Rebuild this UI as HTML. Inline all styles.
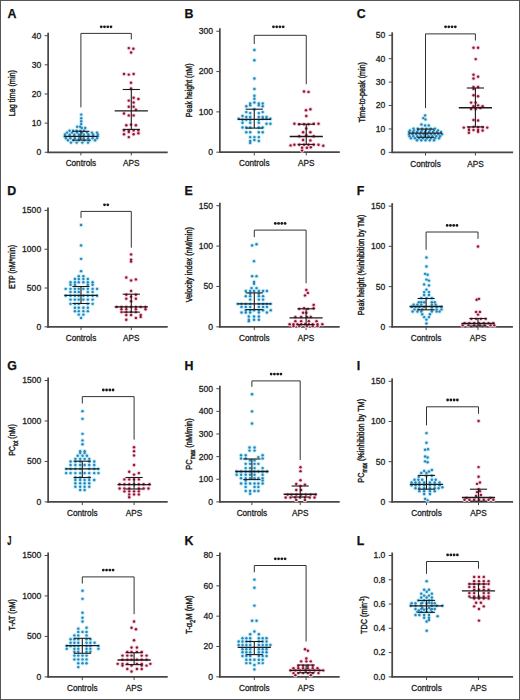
<!DOCTYPE html><html><head><meta charset="utf-8"><style>html,body{margin:0;padding:0;background:#fff;}svg{display:block;}text{font-family:"Liberation Sans",sans-serif;fill:#222;}</style></head><body>
<svg width="520" height="700" viewBox="0 0 520 700">
<rect x="0" y="0" width="520" height="700" fill="#fff"/>
<rect x="0.5" y="0.5" width="519" height="699" fill="none" stroke="#555" stroke-width="1"/>
<text x="7.5" y="17.6" font-size="12.4" font-weight="bold" style="fill:#111;stroke:#111;stroke-width:0.25">A</text>
<text transform="translate(15.2,93.2) rotate(-90)" text-anchor="middle" font-size="9.6" style="stroke:#222;stroke-width:0.42" textLength="46.3" lengthAdjust="spacingAndGlyphs">Lag time (min)</text>
<line x1="48.15" y1="32.7" x2="48.15" y2="153.05" stroke="#474747" stroke-width="1.75"/>
<line x1="47.35" y1="152.25" x2="167.7" y2="152.25" stroke="#474747" stroke-width="1.75"/>
<line x1="44.65" y1="152.25" x2="48.15" y2="152.25" stroke="#474747" stroke-width="1"/>
<text x="41.35" y="155.15" font-size="8.6" text-anchor="end" style="stroke:#222;stroke-width:0.28">0</text>
<line x1="44.65" y1="123.11" x2="48.15" y2="123.11" stroke="#474747" stroke-width="1"/>
<text x="41.35" y="126.01" font-size="8.6" text-anchor="end" style="stroke:#222;stroke-width:0.28">10</text>
<line x1="44.65" y1="93.97" x2="48.15" y2="93.97" stroke="#474747" stroke-width="1"/>
<text x="41.35" y="96.88" font-size="8.6" text-anchor="end" style="stroke:#222;stroke-width:0.28">20</text>
<line x1="44.65" y1="64.84" x2="48.15" y2="64.84" stroke="#474747" stroke-width="1"/>
<text x="41.35" y="67.74" font-size="8.6" text-anchor="end" style="stroke:#222;stroke-width:0.28">30</text>
<line x1="44.65" y1="35.7" x2="48.15" y2="35.7" stroke="#474747" stroke-width="1"/>
<text x="41.35" y="38.6" font-size="8.6" text-anchor="end" style="stroke:#222;stroke-width:0.28">40</text>
<line x1="80.9" y1="152.25" x2="80.9" y2="155.45" stroke="#474747" stroke-width="1"/>
<line x1="131.3" y1="152.25" x2="131.3" y2="155.45" stroke="#474747" stroke-width="1"/>
<text x="80.9" y="166.45" font-size="8.6" text-anchor="middle" style="stroke:#222;stroke-width:0.28" textLength="30.5" lengthAdjust="spacingAndGlyphs">Controls</text>
<text x="131.3" y="166.45" font-size="8.6" text-anchor="middle" style="stroke:#222;stroke-width:0.28" textLength="16.5" lengthAdjust="spacingAndGlyphs">APS</text>
<path d="M80.9,107.4V33.4H131.3V39.4" fill="none" stroke="#333" stroke-width="1"/>
<circle cx="101.23" cy="26.8" r="1.4" fill="#1a1a1a"/>
<circle cx="104.48" cy="26.8" r="1.4" fill="#1a1a1a"/>
<circle cx="107.73" cy="26.8" r="1.4" fill="#1a1a1a"/>
<circle cx="110.98" cy="26.8" r="1.4" fill="#1a1a1a"/>
<g fill="#c2ecfa"><circle cx="81.2" cy="114.6" r="2.2"/><circle cx="81.2" cy="118.3" r="2.2"/><circle cx="81.2" cy="121.3" r="2.2"/><circle cx="81.2" cy="124" r="2.2"/><circle cx="77.2" cy="126.8" r="2.2"/><circle cx="80.2" cy="126.8" r="2.2"/><circle cx="81.8" cy="128" r="2.2"/><circle cx="85.2" cy="128" r="2.2"/><circle cx="69.5" cy="130.8" r="2.2"/><circle cx="73.12" cy="130.8" r="2.2"/><circle cx="76.75" cy="130.8" r="2.2"/><circle cx="80.38" cy="130.8" r="2.2"/><circle cx="84" cy="130.8" r="2.2"/><circle cx="67" cy="132.6" r="2.2"/><circle cx="72" cy="132.6" r="2.2"/><circle cx="77" cy="132.6" r="2.2"/><circle cx="82" cy="132.6" r="2.2"/><circle cx="87" cy="132.6" r="2.2"/><circle cx="92" cy="132.6" r="2.2"/><circle cx="97" cy="132.6" r="2.2"/><circle cx="65" cy="134.4" r="2.2"/><circle cx="69.69" cy="134.4" r="2.2"/><circle cx="74.37" cy="134.4" r="2.2"/><circle cx="79.06" cy="134.4" r="2.2"/><circle cx="83.74" cy="134.4" r="2.2"/><circle cx="88.43" cy="134.4" r="2.2"/><circle cx="93.11" cy="134.4" r="2.2"/><circle cx="97.8" cy="134.4" r="2.2"/><circle cx="64.8" cy="136.2" r="2.2"/><circle cx="69.51" cy="136.2" r="2.2"/><circle cx="74.23" cy="136.2" r="2.2"/><circle cx="78.94" cy="136.2" r="2.2"/><circle cx="83.66" cy="136.2" r="2.2"/><circle cx="88.37" cy="136.2" r="2.2"/><circle cx="93.09" cy="136.2" r="2.2"/><circle cx="97.8" cy="136.2" r="2.2"/><circle cx="66" cy="138.2" r="2.2"/><circle cx="70.43" cy="138.2" r="2.2"/><circle cx="74.86" cy="138.2" r="2.2"/><circle cx="79.29" cy="138.2" r="2.2"/><circle cx="83.71" cy="138.2" r="2.2"/><circle cx="88.14" cy="138.2" r="2.2"/><circle cx="92.57" cy="138.2" r="2.2"/><circle cx="97" cy="138.2" r="2.2"/><circle cx="68" cy="140.2" r="2.2"/><circle cx="73.4" cy="140.2" r="2.2"/><circle cx="78.8" cy="140.2" r="2.2"/><circle cx="84.2" cy="140.2" r="2.2"/><circle cx="89.6" cy="140.2" r="2.2"/><circle cx="95" cy="140.2" r="2.2"/><circle cx="71" cy="142.6" r="2.2"/><circle cx="76.67" cy="142.6" r="2.2"/><circle cx="82.33" cy="142.6" r="2.2"/><circle cx="88" cy="142.6" r="2.2"/></g>
<g fill="#f6d0da"><circle cx="128.8" cy="48.1" r="2.2"/><circle cx="133.4" cy="48.7" r="2.2"/><circle cx="131.1" cy="52.5" r="2.2"/><circle cx="124" cy="74" r="2.2"/><circle cx="128.8" cy="74.6" r="2.2"/><circle cx="133.6" cy="74" r="2.2"/><circle cx="131" cy="82.7" r="2.2"/><circle cx="131" cy="88.5" r="2.2"/><circle cx="133.6" cy="97.7" r="2.2"/><circle cx="128.8" cy="100.6" r="2.2"/><circle cx="138.4" cy="99" r="2.2"/><circle cx="133.6" cy="102.5" r="2.2"/><circle cx="128.8" cy="106.7" r="2.2"/><circle cx="133.6" cy="106.7" r="2.2"/><circle cx="135.9" cy="109.6" r="2.2"/><circle cx="124" cy="113.5" r="2.2"/><circle cx="128.8" cy="115.4" r="2.2"/><circle cx="133.6" cy="115.4" r="2.2"/><circle cx="131" cy="124.6" r="2.2"/><circle cx="126.3" cy="125.2" r="2.2"/><circle cx="135.9" cy="125.2" r="2.2"/><circle cx="124" cy="130.4" r="2.2"/><circle cx="128.8" cy="130.4" r="2.2"/><circle cx="133.6" cy="130.4" r="2.2"/><circle cx="138.4" cy="130.4" r="2.2"/><circle cx="124" cy="134.2" r="2.2"/><circle cx="128.8" cy="132" r="2.2"/><circle cx="133.6" cy="134.2" r="2.2"/><circle cx="138.4" cy="133.3" r="2.2"/><circle cx="128.8" cy="137.1" r="2.2"/></g>
<g fill="#2a84b6"><circle cx="81.2" cy="114.6" r="1.2"/><circle cx="81.2" cy="118.3" r="1.2"/><circle cx="81.2" cy="121.3" r="1.2"/><circle cx="81.2" cy="124" r="1.2"/><circle cx="77.2" cy="126.8" r="1.2"/><circle cx="80.2" cy="126.8" r="1.2"/><circle cx="81.8" cy="128" r="1.2"/><circle cx="85.2" cy="128" r="1.2"/><circle cx="69.5" cy="130.8" r="1.2"/><circle cx="73.12" cy="130.8" r="1.2"/><circle cx="76.75" cy="130.8" r="1.2"/><circle cx="80.38" cy="130.8" r="1.2"/><circle cx="84" cy="130.8" r="1.2"/><circle cx="67" cy="132.6" r="1.2"/><circle cx="72" cy="132.6" r="1.2"/><circle cx="77" cy="132.6" r="1.2"/><circle cx="82" cy="132.6" r="1.2"/><circle cx="87" cy="132.6" r="1.2"/><circle cx="92" cy="132.6" r="1.2"/><circle cx="97" cy="132.6" r="1.2"/><circle cx="65" cy="134.4" r="1.2"/><circle cx="69.69" cy="134.4" r="1.2"/><circle cx="74.37" cy="134.4" r="1.2"/><circle cx="79.06" cy="134.4" r="1.2"/><circle cx="83.74" cy="134.4" r="1.2"/><circle cx="88.43" cy="134.4" r="1.2"/><circle cx="93.11" cy="134.4" r="1.2"/><circle cx="97.8" cy="134.4" r="1.2"/><circle cx="64.8" cy="136.2" r="1.2"/><circle cx="69.51" cy="136.2" r="1.2"/><circle cx="74.23" cy="136.2" r="1.2"/><circle cx="78.94" cy="136.2" r="1.2"/><circle cx="83.66" cy="136.2" r="1.2"/><circle cx="88.37" cy="136.2" r="1.2"/><circle cx="93.09" cy="136.2" r="1.2"/><circle cx="97.8" cy="136.2" r="1.2"/><circle cx="66" cy="138.2" r="1.2"/><circle cx="70.43" cy="138.2" r="1.2"/><circle cx="74.86" cy="138.2" r="1.2"/><circle cx="79.29" cy="138.2" r="1.2"/><circle cx="83.71" cy="138.2" r="1.2"/><circle cx="88.14" cy="138.2" r="1.2"/><circle cx="92.57" cy="138.2" r="1.2"/><circle cx="97" cy="138.2" r="1.2"/><circle cx="68" cy="140.2" r="1.2"/><circle cx="73.4" cy="140.2" r="1.2"/><circle cx="78.8" cy="140.2" r="1.2"/><circle cx="84.2" cy="140.2" r="1.2"/><circle cx="89.6" cy="140.2" r="1.2"/><circle cx="95" cy="140.2" r="1.2"/><circle cx="71" cy="142.6" r="1.2"/><circle cx="76.67" cy="142.6" r="1.2"/><circle cx="82.33" cy="142.6" r="1.2"/><circle cx="88" cy="142.6" r="1.2"/></g>
<g fill="#8e1636"><circle cx="128.8" cy="48.1" r="1.2"/><circle cx="133.4" cy="48.7" r="1.2"/><circle cx="131.1" cy="52.5" r="1.2"/><circle cx="124" cy="74" r="1.2"/><circle cx="128.8" cy="74.6" r="1.2"/><circle cx="133.6" cy="74" r="1.2"/><circle cx="131" cy="82.7" r="1.2"/><circle cx="131" cy="88.5" r="1.2"/><circle cx="133.6" cy="97.7" r="1.2"/><circle cx="128.8" cy="100.6" r="1.2"/><circle cx="138.4" cy="99" r="1.2"/><circle cx="133.6" cy="102.5" r="1.2"/><circle cx="128.8" cy="106.7" r="1.2"/><circle cx="133.6" cy="106.7" r="1.2"/><circle cx="135.9" cy="109.6" r="1.2"/><circle cx="124" cy="113.5" r="1.2"/><circle cx="128.8" cy="115.4" r="1.2"/><circle cx="133.6" cy="115.4" r="1.2"/><circle cx="131" cy="124.6" r="1.2"/><circle cx="126.3" cy="125.2" r="1.2"/><circle cx="135.9" cy="125.2" r="1.2"/><circle cx="124" cy="130.4" r="1.2"/><circle cx="128.8" cy="130.4" r="1.2"/><circle cx="133.6" cy="130.4" r="1.2"/><circle cx="138.4" cy="130.4" r="1.2"/><circle cx="124" cy="134.2" r="1.2"/><circle cx="128.8" cy="132" r="1.2"/><circle cx="133.6" cy="134.2" r="1.2"/><circle cx="138.4" cy="133.3" r="1.2"/><circle cx="128.8" cy="137.1" r="1.2"/></g>
<line x1="64.3" y1="136.3" x2="97.5" y2="136.3" stroke="#1a1a1a" stroke-width="1.35"/>
<line x1="80.9" y1="131.3" x2="80.9" y2="140.1" stroke="#1a1a1a" stroke-width="1.1"/>
<line x1="72.3" y1="131.3" x2="89.5" y2="131.3" stroke="#1a1a1a" stroke-width="1.1"/>
<line x1="72.3" y1="140.1" x2="89.5" y2="140.1" stroke="#1a1a1a" stroke-width="1.1"/>
<line x1="114.7" y1="110.8" x2="147.9" y2="110.8" stroke="#1a1a1a" stroke-width="1.35"/>
<line x1="131.3" y1="89.5" x2="131.3" y2="129.4" stroke="#1a1a1a" stroke-width="1.1"/>
<line x1="122.7" y1="89.5" x2="139.9" y2="89.5" stroke="#1a1a1a" stroke-width="1.1"/>
<line x1="122.7" y1="129.4" x2="139.9" y2="129.4" stroke="#1a1a1a" stroke-width="1.1"/>
<text x="184.5" y="17.6" font-size="12.4" font-weight="bold" style="fill:#111;stroke:#111;stroke-width:0.25">B</text>
<text transform="translate(191.6,90.3) rotate(-90)" text-anchor="middle" font-size="9.6" style="stroke:#222;stroke-width:0.42" textLength="53.7" lengthAdjust="spacingAndGlyphs">Peak height (nM)</text>
<line x1="219.85" y1="28.25" x2="219.85" y2="153" stroke="#474747" stroke-width="1.75"/>
<line x1="219.05" y1="152.2" x2="339.8" y2="152.2" stroke="#474747" stroke-width="1.75"/>
<line x1="216.35" y1="152.2" x2="219.85" y2="152.2" stroke="#474747" stroke-width="1"/>
<text x="213.05" y="155.1" font-size="8.6" text-anchor="end" style="stroke:#222;stroke-width:0.28">0</text>
<line x1="216.35" y1="111.88" x2="219.85" y2="111.88" stroke="#474747" stroke-width="1"/>
<text x="213.05" y="114.78" font-size="8.6" text-anchor="end" style="stroke:#222;stroke-width:0.28">100</text>
<line x1="216.35" y1="71.57" x2="219.85" y2="71.57" stroke="#474747" stroke-width="1"/>
<text x="213.05" y="74.47" font-size="8.6" text-anchor="end" style="stroke:#222;stroke-width:0.28">200</text>
<line x1="216.35" y1="31.25" x2="219.85" y2="31.25" stroke="#474747" stroke-width="1"/>
<text x="213.05" y="34.15" font-size="8.6" text-anchor="end" style="stroke:#222;stroke-width:0.28">300</text>
<line x1="254.25" y1="152.2" x2="254.25" y2="155.4" stroke="#474747" stroke-width="1"/>
<line x1="306.25" y1="152.2" x2="306.25" y2="155.4" stroke="#474747" stroke-width="1"/>
<text x="254.25" y="166.4" font-size="8.6" text-anchor="middle" style="stroke:#222;stroke-width:0.28" textLength="30.5" lengthAdjust="spacingAndGlyphs">Controls</text>
<text x="306.25" y="166.4" font-size="8.6" text-anchor="middle" style="stroke:#222;stroke-width:0.28" textLength="16.5" lengthAdjust="spacingAndGlyphs">APS</text>
<path d="M254.25,44V35.3H306.25V84.2" fill="none" stroke="#333" stroke-width="1"/>
<circle cx="273.43" cy="26.8" r="1.4" fill="#1a1a1a"/>
<circle cx="276.68" cy="26.8" r="1.4" fill="#1a1a1a"/>
<circle cx="279.93" cy="26.8" r="1.4" fill="#1a1a1a"/>
<circle cx="283.18" cy="26.8" r="1.4" fill="#1a1a1a"/>
<g fill="#c2ecfa"><circle cx="254.4" cy="50" r="2.2"/><circle cx="254.4" cy="60.2" r="2.2"/><circle cx="254.4" cy="78.5" r="2.2"/><circle cx="254.4" cy="89" r="2.2"/><circle cx="254.4" cy="95.8" r="2.2"/><circle cx="254.4" cy="98.7" r="2.2"/><circle cx="250.2" cy="103.5" r="2.2"/><circle cx="254.4" cy="102.5" r="2.2"/><circle cx="258.8" cy="103.5" r="2.2"/><circle cx="262.7" cy="103.5" r="2.2"/><circle cx="246.3" cy="106.3" r="2.2"/><circle cx="250.2" cy="105.3" r="2.2"/><circle cx="258.8" cy="105.3" r="2.2"/><circle cx="262.7" cy="106.3" r="2.2"/><circle cx="254.4" cy="109.2" r="2.2"/><circle cx="246.3" cy="112.1" r="2.2"/><circle cx="250.2" cy="113.1" r="2.2"/><circle cx="258.8" cy="113.1" r="2.2"/><circle cx="262.7" cy="112.1" r="2.2"/><circle cx="242.5" cy="116" r="2.2"/><circle cx="246.3" cy="116.9" r="2.2"/><circle cx="250.2" cy="116.9" r="2.2"/><circle cx="258.8" cy="116.9" r="2.2"/><circle cx="262.7" cy="116.9" r="2.2"/><circle cx="266.5" cy="116.9" r="2.2"/><circle cx="238.7" cy="118.8" r="2.2"/><circle cx="242.5" cy="119.8" r="2.2"/><circle cx="246.3" cy="119.8" r="2.2"/><circle cx="250.2" cy="119.8" r="2.2"/><circle cx="258.8" cy="119.8" r="2.2"/><circle cx="262.7" cy="118.8" r="2.2"/><circle cx="266.5" cy="118.8" r="2.2"/><circle cx="270.4" cy="118.8" r="2.2"/><circle cx="242.5" cy="122.7" r="2.2"/><circle cx="250.2" cy="122.7" r="2.2"/><circle cx="258.8" cy="122.7" r="2.2"/><circle cx="266.5" cy="123.7" r="2.2"/><circle cx="270.4" cy="123.7" r="2.2"/><circle cx="242.5" cy="127.5" r="2.2"/><circle cx="246.3" cy="127.5" r="2.2"/><circle cx="250.2" cy="127.5" r="2.2"/><circle cx="258.8" cy="127.5" r="2.2"/><circle cx="262.7" cy="127.5" r="2.2"/><circle cx="246.3" cy="132.3" r="2.2"/><circle cx="250.2" cy="132.3" r="2.2"/><circle cx="258.8" cy="132.3" r="2.2"/><circle cx="262.7" cy="132.3" r="2.2"/><circle cx="250.2" cy="137.1" r="2.2"/><circle cx="254.4" cy="137.1" r="2.2"/><circle cx="258.8" cy="137.1" r="2.2"/><circle cx="250.2" cy="141" r="2.2"/><circle cx="254.4" cy="140" r="2.2"/><circle cx="258.8" cy="141" r="2.2"/><circle cx="250.2" cy="142.9" r="2.2"/></g>
<g fill="#f6d0da"><circle cx="304" cy="91.5" r="2.2"/><circle cx="308.5" cy="91.9" r="2.2"/><circle cx="306" cy="110.2" r="2.2"/><circle cx="310.4" cy="109.2" r="2.2"/><circle cx="306.3" cy="116" r="2.2"/><circle cx="294.4" cy="123.7" r="2.2"/><circle cx="299.2" cy="124.2" r="2.2"/><circle cx="304" cy="124.2" r="2.2"/><circle cx="308.5" cy="124.2" r="2.2"/><circle cx="313.7" cy="123.7" r="2.2"/><circle cx="318.5" cy="123.7" r="2.2"/><circle cx="306.3" cy="128.5" r="2.2"/><circle cx="303.1" cy="132.3" r="2.2"/><circle cx="310.4" cy="132.3" r="2.2"/><circle cx="299.2" cy="136.2" r="2.2"/><circle cx="306.3" cy="135.2" r="2.2"/><circle cx="313.7" cy="136.2" r="2.2"/><circle cx="303.1" cy="140" r="2.2"/><circle cx="310.4" cy="140.4" r="2.2"/><circle cx="290.6" cy="145.4" r="2.2"/><circle cx="294.4" cy="144.8" r="2.2"/><circle cx="299.2" cy="144.8" r="2.2"/><circle cx="304" cy="144.8" r="2.2"/><circle cx="308.5" cy="144.8" r="2.2"/><circle cx="313.7" cy="144.8" r="2.2"/><circle cx="318.5" cy="144.8" r="2.2"/><circle cx="323.3" cy="145.8" r="2.2"/><circle cx="302.1" cy="147.7" r="2.2"/><circle cx="306.9" cy="147.7" r="2.2"/><circle cx="310.8" cy="147.3" r="2.2"/><circle cx="302.1" cy="150.6" r="2.2"/></g>
<g fill="#2a84b6"><circle cx="254.4" cy="50" r="1.2"/><circle cx="254.4" cy="60.2" r="1.2"/><circle cx="254.4" cy="78.5" r="1.2"/><circle cx="254.4" cy="89" r="1.2"/><circle cx="254.4" cy="95.8" r="1.2"/><circle cx="254.4" cy="98.7" r="1.2"/><circle cx="250.2" cy="103.5" r="1.2"/><circle cx="254.4" cy="102.5" r="1.2"/><circle cx="258.8" cy="103.5" r="1.2"/><circle cx="262.7" cy="103.5" r="1.2"/><circle cx="246.3" cy="106.3" r="1.2"/><circle cx="250.2" cy="105.3" r="1.2"/><circle cx="258.8" cy="105.3" r="1.2"/><circle cx="262.7" cy="106.3" r="1.2"/><circle cx="254.4" cy="109.2" r="1.2"/><circle cx="246.3" cy="112.1" r="1.2"/><circle cx="250.2" cy="113.1" r="1.2"/><circle cx="258.8" cy="113.1" r="1.2"/><circle cx="262.7" cy="112.1" r="1.2"/><circle cx="242.5" cy="116" r="1.2"/><circle cx="246.3" cy="116.9" r="1.2"/><circle cx="250.2" cy="116.9" r="1.2"/><circle cx="258.8" cy="116.9" r="1.2"/><circle cx="262.7" cy="116.9" r="1.2"/><circle cx="266.5" cy="116.9" r="1.2"/><circle cx="238.7" cy="118.8" r="1.2"/><circle cx="242.5" cy="119.8" r="1.2"/><circle cx="246.3" cy="119.8" r="1.2"/><circle cx="250.2" cy="119.8" r="1.2"/><circle cx="258.8" cy="119.8" r="1.2"/><circle cx="262.7" cy="118.8" r="1.2"/><circle cx="266.5" cy="118.8" r="1.2"/><circle cx="270.4" cy="118.8" r="1.2"/><circle cx="242.5" cy="122.7" r="1.2"/><circle cx="250.2" cy="122.7" r="1.2"/><circle cx="258.8" cy="122.7" r="1.2"/><circle cx="266.5" cy="123.7" r="1.2"/><circle cx="270.4" cy="123.7" r="1.2"/><circle cx="242.5" cy="127.5" r="1.2"/><circle cx="246.3" cy="127.5" r="1.2"/><circle cx="250.2" cy="127.5" r="1.2"/><circle cx="258.8" cy="127.5" r="1.2"/><circle cx="262.7" cy="127.5" r="1.2"/><circle cx="246.3" cy="132.3" r="1.2"/><circle cx="250.2" cy="132.3" r="1.2"/><circle cx="258.8" cy="132.3" r="1.2"/><circle cx="262.7" cy="132.3" r="1.2"/><circle cx="250.2" cy="137.1" r="1.2"/><circle cx="254.4" cy="137.1" r="1.2"/><circle cx="258.8" cy="137.1" r="1.2"/><circle cx="250.2" cy="141" r="1.2"/><circle cx="254.4" cy="140" r="1.2"/><circle cx="258.8" cy="141" r="1.2"/><circle cx="250.2" cy="142.9" r="1.2"/></g>
<g fill="#8e1636"><circle cx="304" cy="91.5" r="1.2"/><circle cx="308.5" cy="91.9" r="1.2"/><circle cx="306" cy="110.2" r="1.2"/><circle cx="310.4" cy="109.2" r="1.2"/><circle cx="306.3" cy="116" r="1.2"/><circle cx="294.4" cy="123.7" r="1.2"/><circle cx="299.2" cy="124.2" r="1.2"/><circle cx="304" cy="124.2" r="1.2"/><circle cx="308.5" cy="124.2" r="1.2"/><circle cx="313.7" cy="123.7" r="1.2"/><circle cx="318.5" cy="123.7" r="1.2"/><circle cx="306.3" cy="128.5" r="1.2"/><circle cx="303.1" cy="132.3" r="1.2"/><circle cx="310.4" cy="132.3" r="1.2"/><circle cx="299.2" cy="136.2" r="1.2"/><circle cx="306.3" cy="135.2" r="1.2"/><circle cx="313.7" cy="136.2" r="1.2"/><circle cx="303.1" cy="140" r="1.2"/><circle cx="310.4" cy="140.4" r="1.2"/><circle cx="290.6" cy="145.4" r="1.2"/><circle cx="294.4" cy="144.8" r="1.2"/><circle cx="299.2" cy="144.8" r="1.2"/><circle cx="304" cy="144.8" r="1.2"/><circle cx="308.5" cy="144.8" r="1.2"/><circle cx="313.7" cy="144.8" r="1.2"/><circle cx="318.5" cy="144.8" r="1.2"/><circle cx="323.3" cy="145.8" r="1.2"/><circle cx="302.1" cy="147.7" r="1.2"/><circle cx="306.9" cy="147.7" r="1.2"/><circle cx="310.8" cy="147.3" r="1.2"/><circle cx="302.1" cy="150.6" r="1.2"/></g>
<line x1="237.65" y1="119.4" x2="270.85" y2="119.4" stroke="#1a1a1a" stroke-width="1.35"/>
<line x1="254.25" y1="109.2" x2="254.25" y2="128.1" stroke="#1a1a1a" stroke-width="1.1"/>
<line x1="245.65" y1="109.2" x2="262.85" y2="109.2" stroke="#1a1a1a" stroke-width="1.1"/>
<line x1="245.65" y1="128.1" x2="262.85" y2="128.1" stroke="#1a1a1a" stroke-width="1.1"/>
<line x1="289.65" y1="136.5" x2="322.85" y2="136.5" stroke="#1a1a1a" stroke-width="1.35"/>
<line x1="306.25" y1="124.2" x2="306.25" y2="144.4" stroke="#1a1a1a" stroke-width="1.1"/>
<line x1="297.65" y1="124.2" x2="314.85" y2="124.2" stroke="#1a1a1a" stroke-width="1.1"/>
<line x1="297.65" y1="144.4" x2="314.85" y2="144.4" stroke="#1a1a1a" stroke-width="1.1"/>
<text x="356.7" y="17.6" font-size="12.4" font-weight="bold" style="fill:#111;stroke:#111;stroke-width:0.25">C</text>
<text transform="translate(364.9,92.2) rotate(-90)" text-anchor="middle" font-size="9.6" style="stroke:#222;stroke-width:0.42" textLength="60.4" lengthAdjust="spacingAndGlyphs">Time-to-peak (min)</text>
<line x1="392.2" y1="32.3" x2="392.2" y2="153.15" stroke="#474747" stroke-width="1.75"/>
<line x1="391.4" y1="152.35" x2="513.1" y2="152.35" stroke="#474747" stroke-width="1.75"/>
<line x1="388.7" y1="152.35" x2="392.2" y2="152.35" stroke="#474747" stroke-width="1"/>
<text x="385.4" y="155.25" font-size="8.6" text-anchor="end" style="stroke:#222;stroke-width:0.28">0</text>
<line x1="388.7" y1="128.94" x2="392.2" y2="128.94" stroke="#474747" stroke-width="1"/>
<text x="385.4" y="131.84" font-size="8.6" text-anchor="end" style="stroke:#222;stroke-width:0.28">10</text>
<line x1="388.7" y1="105.53" x2="392.2" y2="105.53" stroke="#474747" stroke-width="1"/>
<text x="385.4" y="108.43" font-size="8.6" text-anchor="end" style="stroke:#222;stroke-width:0.28">20</text>
<line x1="388.7" y1="82.12" x2="392.2" y2="82.12" stroke="#474747" stroke-width="1"/>
<text x="385.4" y="85.02" font-size="8.6" text-anchor="end" style="stroke:#222;stroke-width:0.28">30</text>
<line x1="388.7" y1="58.71" x2="392.2" y2="58.71" stroke="#474747" stroke-width="1"/>
<text x="385.4" y="61.61" font-size="8.6" text-anchor="end" style="stroke:#222;stroke-width:0.28">40</text>
<line x1="388.7" y1="35.3" x2="392.2" y2="35.3" stroke="#474747" stroke-width="1"/>
<text x="385.4" y="38.2" font-size="8.6" text-anchor="end" style="stroke:#222;stroke-width:0.28">50</text>
<line x1="425.5" y1="152.35" x2="425.5" y2="155.55" stroke="#474747" stroke-width="1"/>
<line x1="475.4" y1="152.35" x2="475.4" y2="155.55" stroke="#474747" stroke-width="1"/>
<text x="425.5" y="166.55" font-size="8.6" text-anchor="middle" style="stroke:#222;stroke-width:0.28" textLength="30.5" lengthAdjust="spacingAndGlyphs">Controls</text>
<text x="475.4" y="166.55" font-size="8.6" text-anchor="middle" style="stroke:#222;stroke-width:0.28" textLength="16.5" lengthAdjust="spacingAndGlyphs">APS</text>
<path d="M425.5,108.1V33.9H475.4V40.5" fill="none" stroke="#333" stroke-width="1"/>
<circle cx="445.57" cy="26.8" r="1.4" fill="#1a1a1a"/>
<circle cx="448.82" cy="26.8" r="1.4" fill="#1a1a1a"/>
<circle cx="452.07" cy="26.8" r="1.4" fill="#1a1a1a"/>
<circle cx="455.32" cy="26.8" r="1.4" fill="#1a1a1a"/>
<g fill="#c2ecfa"><circle cx="425.09" cy="115.38" r="2.2"/><circle cx="423.27" cy="118.12" r="2.2"/><circle cx="425.46" cy="119.4" r="2.2"/><circle cx="421.44" cy="124.51" r="2.2"/><circle cx="425.09" cy="125.43" r="2.2"/><circle cx="428.75" cy="125.43" r="2.2"/><circle cx="413.5" cy="128.6" r="2.2"/><circle cx="417.8" cy="128.6" r="2.2"/><circle cx="422.1" cy="128.6" r="2.2"/><circle cx="426.4" cy="128.6" r="2.2"/><circle cx="430.7" cy="128.6" r="2.2"/><circle cx="435" cy="128.6" r="2.2"/><circle cx="410" cy="130.4" r="2.2"/><circle cx="414" cy="130.4" r="2.2"/><circle cx="418" cy="130.4" r="2.2"/><circle cx="422" cy="130.4" r="2.2"/><circle cx="426" cy="130.4" r="2.2"/><circle cx="430" cy="130.4" r="2.2"/><circle cx="434" cy="130.4" r="2.2"/><circle cx="438" cy="130.4" r="2.2"/><circle cx="409" cy="132" r="2.2"/><circle cx="413" cy="132" r="2.2"/><circle cx="417" cy="132" r="2.2"/><circle cx="421" cy="132" r="2.2"/><circle cx="425" cy="132" r="2.2"/><circle cx="429" cy="132" r="2.2"/><circle cx="433" cy="132" r="2.2"/><circle cx="437" cy="132" r="2.2"/><circle cx="441" cy="132" r="2.2"/><circle cx="409" cy="134.3" r="2.2"/><circle cx="412.67" cy="134.3" r="2.2"/><circle cx="416.33" cy="134.3" r="2.2"/><circle cx="420" cy="134.3" r="2.2"/><circle cx="423.67" cy="134.3" r="2.2"/><circle cx="427.33" cy="134.3" r="2.2"/><circle cx="431" cy="134.3" r="2.2"/><circle cx="434.67" cy="134.3" r="2.2"/><circle cx="438.33" cy="134.3" r="2.2"/><circle cx="442" cy="134.3" r="2.2"/><circle cx="409.6" cy="136.2" r="2.2"/><circle cx="413.4" cy="136.2" r="2.2"/><circle cx="417.2" cy="136.2" r="2.2"/><circle cx="421" cy="136.2" r="2.2"/><circle cx="424.8" cy="136.2" r="2.2"/><circle cx="428.6" cy="136.2" r="2.2"/><circle cx="432.4" cy="136.2" r="2.2"/><circle cx="436.2" cy="136.2" r="2.2"/><circle cx="440" cy="136.2" r="2.2"/><circle cx="411" cy="138.3" r="2.2"/><circle cx="415" cy="138.3" r="2.2"/><circle cx="419" cy="138.3" r="2.2"/><circle cx="423" cy="138.3" r="2.2"/><circle cx="427" cy="138.3" r="2.2"/><circle cx="431" cy="138.3" r="2.2"/><circle cx="435" cy="138.3" r="2.2"/><circle cx="439" cy="138.3" r="2.2"/><circle cx="417" cy="140.2" r="2.2"/><circle cx="421.25" cy="140.2" r="2.2"/><circle cx="425.5" cy="140.2" r="2.2"/><circle cx="429.75" cy="140.2" r="2.2"/><circle cx="434" cy="140.2" r="2.2"/></g>
<g fill="#f6d0da"><circle cx="473.51" cy="47.79" r="2.2"/><circle cx="478.07" cy="47.79" r="2.2"/><circle cx="475.7" cy="59.11" r="2.2"/><circle cx="473.51" cy="74.82" r="2.2"/><circle cx="478.07" cy="76.65" r="2.2"/><circle cx="473.51" cy="78.48" r="2.2"/><circle cx="473.51" cy="87.06" r="2.2"/><circle cx="478.07" cy="87.06" r="2.2"/><circle cx="473.51" cy="88.89" r="2.2"/><circle cx="473.51" cy="95.28" r="2.2"/><circle cx="478.07" cy="96.2" r="2.2"/><circle cx="471.13" cy="102.59" r="2.2"/><circle cx="475.7" cy="102.59" r="2.2"/><circle cx="473.51" cy="106.25" r="2.2"/><circle cx="478.07" cy="105.33" r="2.2"/><circle cx="482.64" cy="106.25" r="2.2"/><circle cx="471.13" cy="108.99" r="2.2"/><circle cx="475.7" cy="108.99" r="2.2"/><circle cx="480.26" cy="108.07" r="2.2"/><circle cx="473.51" cy="119.95" r="2.2"/><circle cx="478.07" cy="120.5" r="2.2"/><circle cx="463.82" cy="127.62" r="2.2"/><circle cx="468.94" cy="127.62" r="2.2"/><circle cx="473.51" cy="126.89" r="2.2"/><circle cx="478.07" cy="127.25" r="2.2"/><circle cx="482.64" cy="127.25" r="2.2"/><circle cx="487.21" cy="127.62" r="2.2"/><circle cx="468.94" cy="129.99" r="2.2"/><circle cx="473.51" cy="129.99" r="2.2"/><circle cx="478.07" cy="129.99" r="2.2"/><circle cx="482.64" cy="130.54" r="2.2"/><circle cx="468.94" cy="132.73" r="2.2"/><circle cx="478.07" cy="131.82" r="2.2"/></g>
<g fill="#2a84b6"><circle cx="425.09" cy="115.38" r="1.2"/><circle cx="423.27" cy="118.12" r="1.2"/><circle cx="425.46" cy="119.4" r="1.2"/><circle cx="421.44" cy="124.51" r="1.2"/><circle cx="425.09" cy="125.43" r="1.2"/><circle cx="428.75" cy="125.43" r="1.2"/><circle cx="413.5" cy="128.6" r="1.2"/><circle cx="417.8" cy="128.6" r="1.2"/><circle cx="422.1" cy="128.6" r="1.2"/><circle cx="426.4" cy="128.6" r="1.2"/><circle cx="430.7" cy="128.6" r="1.2"/><circle cx="435" cy="128.6" r="1.2"/><circle cx="410" cy="130.4" r="1.2"/><circle cx="414" cy="130.4" r="1.2"/><circle cx="418" cy="130.4" r="1.2"/><circle cx="422" cy="130.4" r="1.2"/><circle cx="426" cy="130.4" r="1.2"/><circle cx="430" cy="130.4" r="1.2"/><circle cx="434" cy="130.4" r="1.2"/><circle cx="438" cy="130.4" r="1.2"/><circle cx="409" cy="132" r="1.2"/><circle cx="413" cy="132" r="1.2"/><circle cx="417" cy="132" r="1.2"/><circle cx="421" cy="132" r="1.2"/><circle cx="425" cy="132" r="1.2"/><circle cx="429" cy="132" r="1.2"/><circle cx="433" cy="132" r="1.2"/><circle cx="437" cy="132" r="1.2"/><circle cx="441" cy="132" r="1.2"/><circle cx="409" cy="134.3" r="1.2"/><circle cx="412.67" cy="134.3" r="1.2"/><circle cx="416.33" cy="134.3" r="1.2"/><circle cx="420" cy="134.3" r="1.2"/><circle cx="423.67" cy="134.3" r="1.2"/><circle cx="427.33" cy="134.3" r="1.2"/><circle cx="431" cy="134.3" r="1.2"/><circle cx="434.67" cy="134.3" r="1.2"/><circle cx="438.33" cy="134.3" r="1.2"/><circle cx="442" cy="134.3" r="1.2"/><circle cx="409.6" cy="136.2" r="1.2"/><circle cx="413.4" cy="136.2" r="1.2"/><circle cx="417.2" cy="136.2" r="1.2"/><circle cx="421" cy="136.2" r="1.2"/><circle cx="424.8" cy="136.2" r="1.2"/><circle cx="428.6" cy="136.2" r="1.2"/><circle cx="432.4" cy="136.2" r="1.2"/><circle cx="436.2" cy="136.2" r="1.2"/><circle cx="440" cy="136.2" r="1.2"/><circle cx="411" cy="138.3" r="1.2"/><circle cx="415" cy="138.3" r="1.2"/><circle cx="419" cy="138.3" r="1.2"/><circle cx="423" cy="138.3" r="1.2"/><circle cx="427" cy="138.3" r="1.2"/><circle cx="431" cy="138.3" r="1.2"/><circle cx="435" cy="138.3" r="1.2"/><circle cx="439" cy="138.3" r="1.2"/><circle cx="417" cy="140.2" r="1.2"/><circle cx="421.25" cy="140.2" r="1.2"/><circle cx="425.5" cy="140.2" r="1.2"/><circle cx="429.75" cy="140.2" r="1.2"/><circle cx="434" cy="140.2" r="1.2"/></g>
<g fill="#8e1636"><circle cx="473.51" cy="47.79" r="1.2"/><circle cx="478.07" cy="47.79" r="1.2"/><circle cx="475.7" cy="59.11" r="1.2"/><circle cx="473.51" cy="74.82" r="1.2"/><circle cx="478.07" cy="76.65" r="1.2"/><circle cx="473.51" cy="78.48" r="1.2"/><circle cx="473.51" cy="87.06" r="1.2"/><circle cx="478.07" cy="87.06" r="1.2"/><circle cx="473.51" cy="88.89" r="1.2"/><circle cx="473.51" cy="95.28" r="1.2"/><circle cx="478.07" cy="96.2" r="1.2"/><circle cx="471.13" cy="102.59" r="1.2"/><circle cx="475.7" cy="102.59" r="1.2"/><circle cx="473.51" cy="106.25" r="1.2"/><circle cx="478.07" cy="105.33" r="1.2"/><circle cx="482.64" cy="106.25" r="1.2"/><circle cx="471.13" cy="108.99" r="1.2"/><circle cx="475.7" cy="108.99" r="1.2"/><circle cx="480.26" cy="108.07" r="1.2"/><circle cx="473.51" cy="119.95" r="1.2"/><circle cx="478.07" cy="120.5" r="1.2"/><circle cx="463.82" cy="127.62" r="1.2"/><circle cx="468.94" cy="127.62" r="1.2"/><circle cx="473.51" cy="126.89" r="1.2"/><circle cx="478.07" cy="127.25" r="1.2"/><circle cx="482.64" cy="127.25" r="1.2"/><circle cx="487.21" cy="127.62" r="1.2"/><circle cx="468.94" cy="129.99" r="1.2"/><circle cx="473.51" cy="129.99" r="1.2"/><circle cx="478.07" cy="129.99" r="1.2"/><circle cx="482.64" cy="130.54" r="1.2"/><circle cx="468.94" cy="132.73" r="1.2"/><circle cx="478.07" cy="131.82" r="1.2"/></g>
<line x1="408.9" y1="133.1" x2="442.1" y2="133.1" stroke="#1a1a1a" stroke-width="1.35"/>
<line x1="425.5" y1="129.1" x2="425.5" y2="137.3" stroke="#1a1a1a" stroke-width="1.1"/>
<line x1="416.9" y1="129.1" x2="434.1" y2="129.1" stroke="#1a1a1a" stroke-width="1.1"/>
<line x1="416.9" y1="137.3" x2="434.1" y2="137.3" stroke="#1a1a1a" stroke-width="1.1"/>
<line x1="458.8" y1="107.7" x2="492" y2="107.7" stroke="#1a1a1a" stroke-width="1.35"/>
<line x1="475.4" y1="88" x2="475.4" y2="126.9" stroke="#1a1a1a" stroke-width="1.1"/>
<line x1="466.8" y1="88" x2="484" y2="88" stroke="#1a1a1a" stroke-width="1.1"/>
<line x1="466.8" y1="126.9" x2="484" y2="126.9" stroke="#1a1a1a" stroke-width="1.1"/>
<text x="7.3" y="195" font-size="12.4" font-weight="bold" style="fill:#111;stroke:#111;stroke-width:0.25">D</text>
<text transform="translate(15.4,267) rotate(-90)" text-anchor="middle" font-size="9.6" style="stroke:#222;stroke-width:0.42" textLength="44" lengthAdjust="spacingAndGlyphs">ETP (nM*min)</text>
<line x1="48" y1="207.4" x2="48" y2="327.65" stroke="#474747" stroke-width="1.75"/>
<line x1="47.2" y1="326.85" x2="167.7" y2="326.85" stroke="#474747" stroke-width="1.75"/>
<line x1="44.5" y1="326.85" x2="48" y2="326.85" stroke="#474747" stroke-width="1"/>
<text x="41.2" y="329.75" font-size="8.6" text-anchor="end" style="stroke:#222;stroke-width:0.28">0</text>
<line x1="44.5" y1="288.03" x2="48" y2="288.03" stroke="#474747" stroke-width="1"/>
<text x="41.2" y="290.93" font-size="8.6" text-anchor="end" style="stroke:#222;stroke-width:0.28">500</text>
<line x1="44.5" y1="249.22" x2="48" y2="249.22" stroke="#474747" stroke-width="1"/>
<text x="41.2" y="252.12" font-size="8.6" text-anchor="end" style="stroke:#222;stroke-width:0.28">1000</text>
<line x1="44.5" y1="210.4" x2="48" y2="210.4" stroke="#474747" stroke-width="1"/>
<text x="41.2" y="213.3" font-size="8.6" text-anchor="end" style="stroke:#222;stroke-width:0.28">1500</text>
<line x1="81" y1="326.85" x2="81" y2="330.05" stroke="#474747" stroke-width="1"/>
<line x1="131.3" y1="326.85" x2="131.3" y2="330.05" stroke="#474747" stroke-width="1"/>
<text x="81" y="341.05" font-size="8.6" text-anchor="middle" style="stroke:#222;stroke-width:0.28" textLength="30.5" lengthAdjust="spacingAndGlyphs">Controls</text>
<text x="131.3" y="341.05" font-size="8.6" text-anchor="middle" style="stroke:#222;stroke-width:0.28" textLength="16.5" lengthAdjust="spacingAndGlyphs">APS</text>
<path d="M81,217.9V211.4H131.3V247.7" fill="none" stroke="#333" stroke-width="1"/>
<circle cx="104.53" cy="204.8" r="1.4" fill="#1a1a1a"/>
<circle cx="107.78" cy="204.8" r="1.4" fill="#1a1a1a"/>
<g fill="#c2ecfa"><circle cx="81.08" cy="225" r="2.2"/><circle cx="81.08" cy="245.38" r="2.2"/><circle cx="81.08" cy="258.85" r="2.2"/><circle cx="81.08" cy="271.15" r="2.2"/><circle cx="78.77" cy="276.15" r="2.2"/><circle cx="83.38" cy="276.15" r="2.2"/><circle cx="74.92" cy="279.04" r="2.2"/><circle cx="78.77" cy="279.04" r="2.2"/><circle cx="83.38" cy="279.04" r="2.2"/><circle cx="87.81" cy="279.04" r="2.2"/><circle cx="70.5" cy="282.31" r="2.2"/><circle cx="74.92" cy="282.31" r="2.2"/><circle cx="78.77" cy="282.31" r="2.2"/><circle cx="83.38" cy="282.31" r="2.2"/><circle cx="87.81" cy="282.31" r="2.2"/><circle cx="92.62" cy="282.31" r="2.2"/><circle cx="70.5" cy="284.81" r="2.2"/><circle cx="74.92" cy="284.81" r="2.2"/><circle cx="87.81" cy="284.81" r="2.2"/><circle cx="92.62" cy="284.81" r="2.2"/><circle cx="65.69" cy="288.85" r="2.2"/><circle cx="70.5" cy="288.85" r="2.2"/><circle cx="74.92" cy="288.85" r="2.2"/><circle cx="78.77" cy="288.85" r="2.2"/><circle cx="83.38" cy="288.85" r="2.2"/><circle cx="87.81" cy="288.85" r="2.2"/><circle cx="92.62" cy="288.85" r="2.2"/><circle cx="97.04" cy="288.85" r="2.2"/><circle cx="70.5" cy="291.92" r="2.2"/><circle cx="74.92" cy="291.92" r="2.2"/><circle cx="78.77" cy="291.92" r="2.2"/><circle cx="87.81" cy="291.92" r="2.2"/><circle cx="92.62" cy="291.92" r="2.2"/><circle cx="65.69" cy="295.77" r="2.2"/><circle cx="70.5" cy="295.77" r="2.2"/><circle cx="74.92" cy="295.77" r="2.2"/><circle cx="78.77" cy="295.77" r="2.2"/><circle cx="83.38" cy="295.77" r="2.2"/><circle cx="87.81" cy="295.77" r="2.2"/><circle cx="92.62" cy="295.77" r="2.2"/><circle cx="97.04" cy="295.77" r="2.2"/><circle cx="70.5" cy="299.62" r="2.2"/><circle cx="74.92" cy="299.62" r="2.2"/><circle cx="78.77" cy="299.62" r="2.2"/><circle cx="83.38" cy="299.62" r="2.2"/><circle cx="87.81" cy="299.62" r="2.2"/><circle cx="92.62" cy="299.62" r="2.2"/><circle cx="70.5" cy="303.85" r="2.2"/><circle cx="74.92" cy="303.85" r="2.2"/><circle cx="78.77" cy="303.85" r="2.2"/><circle cx="87.81" cy="303.85" r="2.2"/><circle cx="92.62" cy="303.85" r="2.2"/><circle cx="74.92" cy="307.69" r="2.2"/><circle cx="78.77" cy="307.69" r="2.2"/><circle cx="83.38" cy="307.69" r="2.2"/><circle cx="87.81" cy="307.69" r="2.2"/><circle cx="74.92" cy="311.15" r="2.2"/><circle cx="78.77" cy="311.15" r="2.2"/><circle cx="83.38" cy="311.15" r="2.2"/><circle cx="87.81" cy="311.15" r="2.2"/><circle cx="78.77" cy="314.62" r="2.2"/><circle cx="83.38" cy="314.62" r="2.2"/><circle cx="81.08" cy="317.88" r="2.2"/></g>
<g fill="#f6d0da"><circle cx="131.08" cy="254.42" r="2.2"/><circle cx="131.08" cy="259.62" r="2.2"/><circle cx="131.08" cy="261.54" r="2.2"/><circle cx="126.27" cy="277.5" r="2.2"/><circle cx="131.08" cy="280.38" r="2.2"/><circle cx="135.88" cy="279.42" r="2.2"/><circle cx="131.08" cy="290.96" r="2.2"/><circle cx="126.27" cy="294.81" r="2.2"/><circle cx="135.88" cy="294.81" r="2.2"/><circle cx="131.08" cy="296.73" r="2.2"/><circle cx="126.27" cy="298.65" r="2.2"/><circle cx="135.88" cy="298.65" r="2.2"/><circle cx="131.08" cy="301.15" r="2.2"/><circle cx="116.65" cy="306.92" r="2.2"/><circle cx="121.46" cy="306.92" r="2.2"/><circle cx="126.27" cy="306.92" r="2.2"/><circle cx="131.08" cy="306.92" r="2.2"/><circle cx="135.88" cy="306.92" r="2.2"/><circle cx="140.69" cy="306.92" r="2.2"/><circle cx="145.5" cy="306.92" r="2.2"/><circle cx="121.46" cy="309.23" r="2.2"/><circle cx="126.27" cy="309.23" r="2.2"/><circle cx="135.88" cy="309.23" r="2.2"/><circle cx="145.5" cy="309.23" r="2.2"/><circle cx="121.46" cy="312.12" r="2.2"/><circle cx="126.27" cy="312.12" r="2.2"/><circle cx="131.08" cy="312.12" r="2.2"/><circle cx="135.88" cy="312.12" r="2.2"/><circle cx="126.27" cy="315" r="2.2"/><circle cx="131.08" cy="315" r="2.2"/><circle cx="140.69" cy="315" r="2.2"/><circle cx="126.27" cy="319.81" r="2.2"/><circle cx="135.88" cy="317.88" r="2.2"/><circle cx="140.69" cy="316.92" r="2.2"/></g>
<g fill="#2a84b6"><circle cx="81.08" cy="225" r="1.2"/><circle cx="81.08" cy="245.38" r="1.2"/><circle cx="81.08" cy="258.85" r="1.2"/><circle cx="81.08" cy="271.15" r="1.2"/><circle cx="78.77" cy="276.15" r="1.2"/><circle cx="83.38" cy="276.15" r="1.2"/><circle cx="74.92" cy="279.04" r="1.2"/><circle cx="78.77" cy="279.04" r="1.2"/><circle cx="83.38" cy="279.04" r="1.2"/><circle cx="87.81" cy="279.04" r="1.2"/><circle cx="70.5" cy="282.31" r="1.2"/><circle cx="74.92" cy="282.31" r="1.2"/><circle cx="78.77" cy="282.31" r="1.2"/><circle cx="83.38" cy="282.31" r="1.2"/><circle cx="87.81" cy="282.31" r="1.2"/><circle cx="92.62" cy="282.31" r="1.2"/><circle cx="70.5" cy="284.81" r="1.2"/><circle cx="74.92" cy="284.81" r="1.2"/><circle cx="87.81" cy="284.81" r="1.2"/><circle cx="92.62" cy="284.81" r="1.2"/><circle cx="65.69" cy="288.85" r="1.2"/><circle cx="70.5" cy="288.85" r="1.2"/><circle cx="74.92" cy="288.85" r="1.2"/><circle cx="78.77" cy="288.85" r="1.2"/><circle cx="83.38" cy="288.85" r="1.2"/><circle cx="87.81" cy="288.85" r="1.2"/><circle cx="92.62" cy="288.85" r="1.2"/><circle cx="97.04" cy="288.85" r="1.2"/><circle cx="70.5" cy="291.92" r="1.2"/><circle cx="74.92" cy="291.92" r="1.2"/><circle cx="78.77" cy="291.92" r="1.2"/><circle cx="87.81" cy="291.92" r="1.2"/><circle cx="92.62" cy="291.92" r="1.2"/><circle cx="65.69" cy="295.77" r="1.2"/><circle cx="70.5" cy="295.77" r="1.2"/><circle cx="74.92" cy="295.77" r="1.2"/><circle cx="78.77" cy="295.77" r="1.2"/><circle cx="83.38" cy="295.77" r="1.2"/><circle cx="87.81" cy="295.77" r="1.2"/><circle cx="92.62" cy="295.77" r="1.2"/><circle cx="97.04" cy="295.77" r="1.2"/><circle cx="70.5" cy="299.62" r="1.2"/><circle cx="74.92" cy="299.62" r="1.2"/><circle cx="78.77" cy="299.62" r="1.2"/><circle cx="83.38" cy="299.62" r="1.2"/><circle cx="87.81" cy="299.62" r="1.2"/><circle cx="92.62" cy="299.62" r="1.2"/><circle cx="70.5" cy="303.85" r="1.2"/><circle cx="74.92" cy="303.85" r="1.2"/><circle cx="78.77" cy="303.85" r="1.2"/><circle cx="87.81" cy="303.85" r="1.2"/><circle cx="92.62" cy="303.85" r="1.2"/><circle cx="74.92" cy="307.69" r="1.2"/><circle cx="78.77" cy="307.69" r="1.2"/><circle cx="83.38" cy="307.69" r="1.2"/><circle cx="87.81" cy="307.69" r="1.2"/><circle cx="74.92" cy="311.15" r="1.2"/><circle cx="78.77" cy="311.15" r="1.2"/><circle cx="83.38" cy="311.15" r="1.2"/><circle cx="87.81" cy="311.15" r="1.2"/><circle cx="78.77" cy="314.62" r="1.2"/><circle cx="83.38" cy="314.62" r="1.2"/><circle cx="81.08" cy="317.88" r="1.2"/></g>
<g fill="#8e1636"><circle cx="131.08" cy="254.42" r="1.2"/><circle cx="131.08" cy="259.62" r="1.2"/><circle cx="131.08" cy="261.54" r="1.2"/><circle cx="126.27" cy="277.5" r="1.2"/><circle cx="131.08" cy="280.38" r="1.2"/><circle cx="135.88" cy="279.42" r="1.2"/><circle cx="131.08" cy="290.96" r="1.2"/><circle cx="126.27" cy="294.81" r="1.2"/><circle cx="135.88" cy="294.81" r="1.2"/><circle cx="131.08" cy="296.73" r="1.2"/><circle cx="126.27" cy="298.65" r="1.2"/><circle cx="135.88" cy="298.65" r="1.2"/><circle cx="131.08" cy="301.15" r="1.2"/><circle cx="116.65" cy="306.92" r="1.2"/><circle cx="121.46" cy="306.92" r="1.2"/><circle cx="126.27" cy="306.92" r="1.2"/><circle cx="131.08" cy="306.92" r="1.2"/><circle cx="135.88" cy="306.92" r="1.2"/><circle cx="140.69" cy="306.92" r="1.2"/><circle cx="145.5" cy="306.92" r="1.2"/><circle cx="121.46" cy="309.23" r="1.2"/><circle cx="126.27" cy="309.23" r="1.2"/><circle cx="135.88" cy="309.23" r="1.2"/><circle cx="145.5" cy="309.23" r="1.2"/><circle cx="121.46" cy="312.12" r="1.2"/><circle cx="126.27" cy="312.12" r="1.2"/><circle cx="131.08" cy="312.12" r="1.2"/><circle cx="135.88" cy="312.12" r="1.2"/><circle cx="126.27" cy="315" r="1.2"/><circle cx="131.08" cy="315" r="1.2"/><circle cx="140.69" cy="315" r="1.2"/><circle cx="126.27" cy="319.81" r="1.2"/><circle cx="135.88" cy="317.88" r="1.2"/><circle cx="140.69" cy="316.92" r="1.2"/></g>
<line x1="64.4" y1="295.4" x2="97.6" y2="295.4" stroke="#1a1a1a" stroke-width="1.35"/>
<line x1="81" y1="286.5" x2="81" y2="303.5" stroke="#1a1a1a" stroke-width="1.1"/>
<line x1="72.4" y1="286.5" x2="89.6" y2="286.5" stroke="#1a1a1a" stroke-width="1.1"/>
<line x1="72.4" y1="303.5" x2="89.6" y2="303.5" stroke="#1a1a1a" stroke-width="1.1"/>
<line x1="114.7" y1="306.9" x2="147.9" y2="306.9" stroke="#1a1a1a" stroke-width="1.35"/>
<line x1="131.3" y1="294.2" x2="131.3" y2="312.1" stroke="#1a1a1a" stroke-width="1.1"/>
<line x1="122.7" y1="294.2" x2="139.9" y2="294.2" stroke="#1a1a1a" stroke-width="1.1"/>
<line x1="122.7" y1="312.1" x2="139.9" y2="312.1" stroke="#1a1a1a" stroke-width="1.1"/>
<text x="184.5" y="195" font-size="12.4" font-weight="bold" style="fill:#111;stroke:#111;stroke-width:0.25">E</text>
<text transform="translate(191.9,264.7) rotate(-90)" text-anchor="middle" font-size="9.6" style="stroke:#222;stroke-width:0.42" textLength="75.3" lengthAdjust="spacingAndGlyphs">Velocity index (nM/min)</text>
<line x1="219.85" y1="202.7" x2="219.85" y2="327.65" stroke="#474747" stroke-width="1.75"/>
<line x1="219.05" y1="326.85" x2="339.7" y2="326.85" stroke="#474747" stroke-width="1.75"/>
<line x1="216.35" y1="326.85" x2="219.85" y2="326.85" stroke="#474747" stroke-width="1"/>
<text x="213.05" y="329.75" font-size="8.6" text-anchor="end" style="stroke:#222;stroke-width:0.28">0</text>
<line x1="216.35" y1="286.47" x2="219.85" y2="286.47" stroke="#474747" stroke-width="1"/>
<text x="213.05" y="289.37" font-size="8.6" text-anchor="end" style="stroke:#222;stroke-width:0.28">50</text>
<line x1="216.35" y1="246.08" x2="219.85" y2="246.08" stroke="#474747" stroke-width="1"/>
<text x="213.05" y="248.98" font-size="8.6" text-anchor="end" style="stroke:#222;stroke-width:0.28">100</text>
<line x1="216.35" y1="205.7" x2="219.85" y2="205.7" stroke="#474747" stroke-width="1"/>
<text x="213.05" y="208.6" font-size="8.6" text-anchor="end" style="stroke:#222;stroke-width:0.28">150</text>
<line x1="254.3" y1="326.85" x2="254.3" y2="330.05" stroke="#474747" stroke-width="1"/>
<line x1="306.1" y1="326.85" x2="306.1" y2="330.05" stroke="#474747" stroke-width="1"/>
<text x="254.3" y="341.05" font-size="8.6" text-anchor="middle" style="stroke:#222;stroke-width:0.28" textLength="30.5" lengthAdjust="spacingAndGlyphs">Controls</text>
<text x="306.1" y="341.05" font-size="8.6" text-anchor="middle" style="stroke:#222;stroke-width:0.28" textLength="16.5" lengthAdjust="spacingAndGlyphs">APS</text>
<path d="M254.3,237.1V230.1H306.1V283.3" fill="none" stroke="#333" stroke-width="1"/>
<circle cx="275.33" cy="223.4" r="1.4" fill="#1a1a1a"/>
<circle cx="278.58" cy="223.4" r="1.4" fill="#1a1a1a"/>
<circle cx="281.83" cy="223.4" r="1.4" fill="#1a1a1a"/>
<circle cx="285.08" cy="223.4" r="1.4" fill="#1a1a1a"/>
<g fill="#c2ecfa"><circle cx="252.12" cy="245.38" r="2.2"/><circle cx="256.54" cy="244.23" r="2.2"/><circle cx="254.04" cy="261.15" r="2.2"/><circle cx="252.12" cy="276.15" r="2.2"/><circle cx="256.54" cy="276.15" r="2.2"/><circle cx="254.04" cy="281.92" r="2.2"/><circle cx="254.04" cy="283.85" r="2.2"/><circle cx="251.54" cy="288.08" r="2.2"/><circle cx="256.54" cy="288.08" r="2.2"/><circle cx="245.77" cy="290.96" r="2.2"/><circle cx="250.19" cy="290.96" r="2.2"/><circle cx="254.04" cy="290.96" r="2.2"/><circle cx="258.85" cy="290.96" r="2.2"/><circle cx="263.08" cy="290.96" r="2.2"/><circle cx="266.92" cy="290.96" r="2.2"/><circle cx="250.19" cy="293.85" r="2.2"/><circle cx="258.85" cy="293.85" r="2.2"/><circle cx="245.77" cy="296.15" r="2.2"/><circle cx="250.19" cy="296.15" r="2.2"/><circle cx="258.85" cy="296.15" r="2.2"/><circle cx="263.08" cy="296.15" r="2.2"/><circle cx="250.19" cy="299.62" r="2.2"/><circle cx="258.85" cy="299.62" r="2.2"/><circle cx="263.08" cy="299.62" r="2.2"/><circle cx="237.69" cy="303.85" r="2.2"/><circle cx="241.54" cy="303.85" r="2.2"/><circle cx="245.77" cy="303.85" r="2.2"/><circle cx="250.19" cy="303.85" r="2.2"/><circle cx="258.85" cy="303.85" r="2.2"/><circle cx="263.08" cy="303.85" r="2.2"/><circle cx="266.92" cy="303.85" r="2.2"/><circle cx="270.77" cy="303.85" r="2.2"/><circle cx="241.54" cy="306.92" r="2.2"/><circle cx="245.77" cy="306.92" r="2.2"/><circle cx="250.19" cy="306.92" r="2.2"/><circle cx="258.85" cy="306.92" r="2.2"/><circle cx="263.08" cy="306.92" r="2.2"/><circle cx="266.92" cy="306.92" r="2.2"/><circle cx="245.77" cy="310.19" r="2.2"/><circle cx="250.19" cy="310.19" r="2.2"/><circle cx="254.04" cy="310.19" r="2.2"/><circle cx="258.85" cy="310.19" r="2.2"/><circle cx="263.08" cy="310.19" r="2.2"/><circle cx="270.77" cy="310.19" r="2.2"/><circle cx="241.54" cy="312.5" r="2.2"/><circle cx="245.77" cy="312.5" r="2.2"/><circle cx="250.19" cy="312.5" r="2.2"/><circle cx="258.85" cy="312.5" r="2.2"/><circle cx="266.92" cy="312.5" r="2.2"/><circle cx="248.85" cy="316.54" r="2.2"/><circle cx="254.04" cy="316.54" r="2.2"/><circle cx="258.85" cy="316.54" r="2.2"/><circle cx="248.85" cy="319.81" r="2.2"/><circle cx="254.04" cy="319.81" r="2.2"/><circle cx="258.85" cy="319.81" r="2.2"/><circle cx="248.85" cy="321.15" r="2.2"/></g>
<g fill="#f6d0da"><circle cx="306.35" cy="290" r="2.2"/><circle cx="307.88" cy="292.88" r="2.2"/><circle cx="305" cy="295.38" r="2.2"/><circle cx="299.23" cy="308.85" r="2.2"/><circle cx="307.88" cy="308.85" r="2.2"/><circle cx="304.04" cy="308.27" r="2.2"/><circle cx="313.65" cy="308.27" r="2.2"/><circle cx="313.65" cy="305" r="2.2"/><circle cx="303.08" cy="312.69" r="2.2"/><circle cx="306.35" cy="312.69" r="2.2"/><circle cx="295.38" cy="316.92" r="2.2"/><circle cx="301.15" cy="316.92" r="2.2"/><circle cx="306.92" cy="316.92" r="2.2"/><circle cx="310.77" cy="316.92" r="2.2"/><circle cx="295.38" cy="321.15" r="2.2"/><circle cx="301.15" cy="321.15" r="2.2"/><circle cx="308.85" cy="321.15" r="2.2"/><circle cx="316.54" cy="321.15" r="2.2"/><circle cx="289.62" cy="324.23" r="2.2"/><circle cx="293.46" cy="324.23" r="2.2"/><circle cx="297.31" cy="324.23" r="2.2"/><circle cx="301.15" cy="324.23" r="2.2"/><circle cx="305" cy="324.23" r="2.2"/><circle cx="308.85" cy="324.23" r="2.2"/><circle cx="312.69" cy="324.23" r="2.2"/><circle cx="317.5" cy="324.23" r="2.2"/><circle cx="322.31" cy="324.23" r="2.2"/><circle cx="293.46" cy="326.15" r="2.2"/><circle cx="299.23" cy="326.15" r="2.2"/><circle cx="306.92" cy="326.15" r="2.2"/><circle cx="312.69" cy="326.15" r="2.2"/><circle cx="317.5" cy="326.15" r="2.2"/></g>
<g fill="#2a84b6"><circle cx="252.12" cy="245.38" r="1.2"/><circle cx="256.54" cy="244.23" r="1.2"/><circle cx="254.04" cy="261.15" r="1.2"/><circle cx="252.12" cy="276.15" r="1.2"/><circle cx="256.54" cy="276.15" r="1.2"/><circle cx="254.04" cy="281.92" r="1.2"/><circle cx="254.04" cy="283.85" r="1.2"/><circle cx="251.54" cy="288.08" r="1.2"/><circle cx="256.54" cy="288.08" r="1.2"/><circle cx="245.77" cy="290.96" r="1.2"/><circle cx="250.19" cy="290.96" r="1.2"/><circle cx="254.04" cy="290.96" r="1.2"/><circle cx="258.85" cy="290.96" r="1.2"/><circle cx="263.08" cy="290.96" r="1.2"/><circle cx="266.92" cy="290.96" r="1.2"/><circle cx="250.19" cy="293.85" r="1.2"/><circle cx="258.85" cy="293.85" r="1.2"/><circle cx="245.77" cy="296.15" r="1.2"/><circle cx="250.19" cy="296.15" r="1.2"/><circle cx="258.85" cy="296.15" r="1.2"/><circle cx="263.08" cy="296.15" r="1.2"/><circle cx="250.19" cy="299.62" r="1.2"/><circle cx="258.85" cy="299.62" r="1.2"/><circle cx="263.08" cy="299.62" r="1.2"/><circle cx="237.69" cy="303.85" r="1.2"/><circle cx="241.54" cy="303.85" r="1.2"/><circle cx="245.77" cy="303.85" r="1.2"/><circle cx="250.19" cy="303.85" r="1.2"/><circle cx="258.85" cy="303.85" r="1.2"/><circle cx="263.08" cy="303.85" r="1.2"/><circle cx="266.92" cy="303.85" r="1.2"/><circle cx="270.77" cy="303.85" r="1.2"/><circle cx="241.54" cy="306.92" r="1.2"/><circle cx="245.77" cy="306.92" r="1.2"/><circle cx="250.19" cy="306.92" r="1.2"/><circle cx="258.85" cy="306.92" r="1.2"/><circle cx="263.08" cy="306.92" r="1.2"/><circle cx="266.92" cy="306.92" r="1.2"/><circle cx="245.77" cy="310.19" r="1.2"/><circle cx="250.19" cy="310.19" r="1.2"/><circle cx="254.04" cy="310.19" r="1.2"/><circle cx="258.85" cy="310.19" r="1.2"/><circle cx="263.08" cy="310.19" r="1.2"/><circle cx="270.77" cy="310.19" r="1.2"/><circle cx="241.54" cy="312.5" r="1.2"/><circle cx="245.77" cy="312.5" r="1.2"/><circle cx="250.19" cy="312.5" r="1.2"/><circle cx="258.85" cy="312.5" r="1.2"/><circle cx="266.92" cy="312.5" r="1.2"/><circle cx="248.85" cy="316.54" r="1.2"/><circle cx="254.04" cy="316.54" r="1.2"/><circle cx="258.85" cy="316.54" r="1.2"/><circle cx="248.85" cy="319.81" r="1.2"/><circle cx="254.04" cy="319.81" r="1.2"/><circle cx="258.85" cy="319.81" r="1.2"/><circle cx="248.85" cy="321.15" r="1.2"/></g>
<g fill="#8e1636"><circle cx="306.35" cy="290" r="1.2"/><circle cx="307.88" cy="292.88" r="1.2"/><circle cx="305" cy="295.38" r="1.2"/><circle cx="299.23" cy="308.85" r="1.2"/><circle cx="307.88" cy="308.85" r="1.2"/><circle cx="304.04" cy="308.27" r="1.2"/><circle cx="313.65" cy="308.27" r="1.2"/><circle cx="313.65" cy="305" r="1.2"/><circle cx="303.08" cy="312.69" r="1.2"/><circle cx="306.35" cy="312.69" r="1.2"/><circle cx="295.38" cy="316.92" r="1.2"/><circle cx="301.15" cy="316.92" r="1.2"/><circle cx="306.92" cy="316.92" r="1.2"/><circle cx="310.77" cy="316.92" r="1.2"/><circle cx="295.38" cy="321.15" r="1.2"/><circle cx="301.15" cy="321.15" r="1.2"/><circle cx="308.85" cy="321.15" r="1.2"/><circle cx="316.54" cy="321.15" r="1.2"/><circle cx="289.62" cy="324.23" r="1.2"/><circle cx="293.46" cy="324.23" r="1.2"/><circle cx="297.31" cy="324.23" r="1.2"/><circle cx="301.15" cy="324.23" r="1.2"/><circle cx="305" cy="324.23" r="1.2"/><circle cx="308.85" cy="324.23" r="1.2"/><circle cx="312.69" cy="324.23" r="1.2"/><circle cx="317.5" cy="324.23" r="1.2"/><circle cx="322.31" cy="324.23" r="1.2"/><circle cx="293.46" cy="326.15" r="1.2"/><circle cx="299.23" cy="326.15" r="1.2"/><circle cx="306.92" cy="326.15" r="1.2"/><circle cx="312.69" cy="326.15" r="1.2"/><circle cx="317.5" cy="326.15" r="1.2"/></g>
<line x1="237.7" y1="303.8" x2="270.9" y2="303.8" stroke="#1a1a1a" stroke-width="1.35"/>
<line x1="254.3" y1="292.9" x2="254.3" y2="309.6" stroke="#1a1a1a" stroke-width="1.1"/>
<line x1="245.7" y1="292.9" x2="262.9" y2="292.9" stroke="#1a1a1a" stroke-width="1.1"/>
<line x1="245.7" y1="309.6" x2="262.9" y2="309.6" stroke="#1a1a1a" stroke-width="1.1"/>
<line x1="289.5" y1="317.9" x2="322.7" y2="317.9" stroke="#1a1a1a" stroke-width="1.35"/>
<line x1="306.1" y1="308.8" x2="306.1" y2="324.6" stroke="#1a1a1a" stroke-width="1.1"/>
<line x1="297.5" y1="308.8" x2="314.7" y2="308.8" stroke="#1a1a1a" stroke-width="1.1"/>
<line x1="297.5" y1="324.6" x2="314.7" y2="324.6" stroke="#1a1a1a" stroke-width="1.1"/>
<text x="356.7" y="195" font-size="12.4" font-weight="bold" style="fill:#111;stroke:#111;stroke-width:0.25">F</text>
<text transform="translate(364,264.9) rotate(-90)" text-anchor="middle" font-size="9.6" style="stroke:#222;stroke-width:0.42" textLength="100.5" lengthAdjust="spacingAndGlyphs">Peak height (%inhibition by TM)</text>
<line x1="392.2" y1="203.1" x2="392.2" y2="327.65" stroke="#474747" stroke-width="1.75"/>
<line x1="391.4" y1="326.85" x2="512.9" y2="326.85" stroke="#474747" stroke-width="1.75"/>
<line x1="388.7" y1="326.85" x2="392.2" y2="326.85" stroke="#474747" stroke-width="1"/>
<text x="385.4" y="329.75" font-size="8.6" text-anchor="end" style="stroke:#222;stroke-width:0.28">0</text>
<line x1="388.7" y1="286.6" x2="392.2" y2="286.6" stroke="#474747" stroke-width="1"/>
<text x="385.4" y="289.5" font-size="8.6" text-anchor="end" style="stroke:#222;stroke-width:0.28">50</text>
<line x1="388.7" y1="246.35" x2="392.2" y2="246.35" stroke="#474747" stroke-width="1"/>
<text x="385.4" y="249.25" font-size="8.6" text-anchor="end" style="stroke:#222;stroke-width:0.28">100</text>
<line x1="388.7" y1="206.1" x2="392.2" y2="206.1" stroke="#474747" stroke-width="1"/>
<text x="385.4" y="209" font-size="8.6" text-anchor="end" style="stroke:#222;stroke-width:0.28">150</text>
<line x1="426.1" y1="326.85" x2="426.1" y2="330.05" stroke="#474747" stroke-width="1"/>
<line x1="478" y1="326.85" x2="478" y2="330.05" stroke="#474747" stroke-width="1"/>
<text x="426.1" y="341.05" font-size="8.6" text-anchor="middle" style="stroke:#222;stroke-width:0.28" textLength="30.5" lengthAdjust="spacingAndGlyphs">Controls</text>
<text x="478" y="341.05" font-size="8.6" text-anchor="middle" style="stroke:#222;stroke-width:0.28" textLength="16.5" lengthAdjust="spacingAndGlyphs">APS</text>
<path d="M426.1,249.8V232H478V238.8" fill="none" stroke="#333" stroke-width="1"/>
<circle cx="447.18" cy="225.4" r="1.4" fill="#1a1a1a"/>
<circle cx="450.43" cy="225.4" r="1.4" fill="#1a1a1a"/>
<circle cx="453.68" cy="225.4" r="1.4" fill="#1a1a1a"/>
<circle cx="456.93" cy="225.4" r="1.4" fill="#1a1a1a"/>
<g fill="#c2ecfa"><circle cx="426.46" cy="257.5" r="2.2"/><circle cx="426.46" cy="266.54" r="2.2"/><circle cx="425.12" cy="273.85" r="2.2"/><circle cx="427.62" cy="274.81" r="2.2"/><circle cx="426.46" cy="279.62" r="2.2"/><circle cx="428.96" cy="280.58" r="2.2"/><circle cx="424.15" cy="284.42" r="2.2"/><circle cx="428.96" cy="285.38" r="2.2"/><circle cx="426.46" cy="289.62" r="2.2"/><circle cx="424.15" cy="292.12" r="2.2"/><circle cx="428.96" cy="292.12" r="2.2"/><circle cx="424.15" cy="295" r="2.2"/><circle cx="428.96" cy="295" r="2.2"/><circle cx="421.27" cy="298.08" r="2.2"/><circle cx="426.46" cy="298.08" r="2.2"/><circle cx="431.85" cy="298.08" r="2.2"/><circle cx="418.77" cy="302.31" r="2.2"/><circle cx="421.27" cy="302.31" r="2.2"/><circle cx="424.15" cy="302.31" r="2.2"/><circle cx="431.85" cy="302.31" r="2.2"/><circle cx="434.73" cy="302.31" r="2.2"/><circle cx="413.58" cy="304.62" r="2.2"/><circle cx="417.42" cy="304.62" r="2.2"/><circle cx="421.27" cy="304.62" r="2.2"/><circle cx="431.85" cy="304.62" r="2.2"/><circle cx="435.69" cy="304.62" r="2.2"/><circle cx="411.65" cy="306.92" r="2.2"/><circle cx="415.5" cy="306.92" r="2.2"/><circle cx="419.35" cy="306.92" r="2.2"/><circle cx="424.15" cy="306.92" r="2.2"/><circle cx="431.85" cy="306.92" r="2.2"/><circle cx="436.65" cy="306.92" r="2.2"/><circle cx="441.46" cy="306.92" r="2.2"/><circle cx="414.54" cy="309.42" r="2.2"/><circle cx="418.38" cy="309.42" r="2.2"/><circle cx="422.23" cy="309.42" r="2.2"/><circle cx="431.85" cy="309.42" r="2.2"/><circle cx="436.65" cy="309.42" r="2.2"/><circle cx="441.46" cy="309.42" r="2.2"/><circle cx="412.62" cy="311.54" r="2.2"/><circle cx="417.42" cy="311.54" r="2.2"/><circle cx="421.27" cy="311.54" r="2.2"/><circle cx="431.85" cy="311.54" r="2.2"/><circle cx="436.65" cy="311.54" r="2.2"/><circle cx="439.54" cy="311.54" r="2.2"/><circle cx="422.23" cy="314.23" r="2.2"/><circle cx="429.92" cy="314.23" r="2.2"/><circle cx="424.15" cy="317.12" r="2.2"/><circle cx="428.96" cy="317.12" r="2.2"/><circle cx="426.46" cy="319.62" r="2.2"/><circle cx="426.46" cy="323.46" r="2.2"/></g>
<g fill="#f6d0da"><circle cx="478" cy="246.54" r="2.2"/><circle cx="476.65" cy="299.81" r="2.2"/><circle cx="478.96" cy="298.85" r="2.2"/><circle cx="476.08" cy="311.92" r="2.2"/><circle cx="479.92" cy="311.92" r="2.2"/><circle cx="478" cy="314.62" r="2.2"/><circle cx="471.27" cy="318.85" r="2.2"/><circle cx="476.08" cy="318.85" r="2.2"/><circle cx="480.88" cy="318.85" r="2.2"/><circle cx="485.69" cy="318.85" r="2.2"/><circle cx="464.54" cy="323.08" r="2.2"/><circle cx="469.35" cy="323.08" r="2.2"/><circle cx="474.15" cy="323.08" r="2.2"/><circle cx="478.96" cy="323.08" r="2.2"/><circle cx="483.77" cy="323.08" r="2.2"/><circle cx="488.58" cy="323.08" r="2.2"/><circle cx="493.38" cy="323.08" r="2.2"/><circle cx="462.62" cy="325.38" r="2.2"/><circle cx="468.38" cy="325.38" r="2.2"/><circle cx="474.15" cy="325.38" r="2.2"/><circle cx="479.92" cy="325.38" r="2.2"/><circle cx="484.73" cy="325.38" r="2.2"/><circle cx="490.5" cy="325.38" r="2.2"/><circle cx="494.35" cy="325.38" r="2.2"/></g>
<g fill="#2a84b6"><circle cx="426.46" cy="257.5" r="1.2"/><circle cx="426.46" cy="266.54" r="1.2"/><circle cx="425.12" cy="273.85" r="1.2"/><circle cx="427.62" cy="274.81" r="1.2"/><circle cx="426.46" cy="279.62" r="1.2"/><circle cx="428.96" cy="280.58" r="1.2"/><circle cx="424.15" cy="284.42" r="1.2"/><circle cx="428.96" cy="285.38" r="1.2"/><circle cx="426.46" cy="289.62" r="1.2"/><circle cx="424.15" cy="292.12" r="1.2"/><circle cx="428.96" cy="292.12" r="1.2"/><circle cx="424.15" cy="295" r="1.2"/><circle cx="428.96" cy="295" r="1.2"/><circle cx="421.27" cy="298.08" r="1.2"/><circle cx="426.46" cy="298.08" r="1.2"/><circle cx="431.85" cy="298.08" r="1.2"/><circle cx="418.77" cy="302.31" r="1.2"/><circle cx="421.27" cy="302.31" r="1.2"/><circle cx="424.15" cy="302.31" r="1.2"/><circle cx="431.85" cy="302.31" r="1.2"/><circle cx="434.73" cy="302.31" r="1.2"/><circle cx="413.58" cy="304.62" r="1.2"/><circle cx="417.42" cy="304.62" r="1.2"/><circle cx="421.27" cy="304.62" r="1.2"/><circle cx="431.85" cy="304.62" r="1.2"/><circle cx="435.69" cy="304.62" r="1.2"/><circle cx="411.65" cy="306.92" r="1.2"/><circle cx="415.5" cy="306.92" r="1.2"/><circle cx="419.35" cy="306.92" r="1.2"/><circle cx="424.15" cy="306.92" r="1.2"/><circle cx="431.85" cy="306.92" r="1.2"/><circle cx="436.65" cy="306.92" r="1.2"/><circle cx="441.46" cy="306.92" r="1.2"/><circle cx="414.54" cy="309.42" r="1.2"/><circle cx="418.38" cy="309.42" r="1.2"/><circle cx="422.23" cy="309.42" r="1.2"/><circle cx="431.85" cy="309.42" r="1.2"/><circle cx="436.65" cy="309.42" r="1.2"/><circle cx="441.46" cy="309.42" r="1.2"/><circle cx="412.62" cy="311.54" r="1.2"/><circle cx="417.42" cy="311.54" r="1.2"/><circle cx="421.27" cy="311.54" r="1.2"/><circle cx="431.85" cy="311.54" r="1.2"/><circle cx="436.65" cy="311.54" r="1.2"/><circle cx="439.54" cy="311.54" r="1.2"/><circle cx="422.23" cy="314.23" r="1.2"/><circle cx="429.92" cy="314.23" r="1.2"/><circle cx="424.15" cy="317.12" r="1.2"/><circle cx="428.96" cy="317.12" r="1.2"/><circle cx="426.46" cy="319.62" r="1.2"/><circle cx="426.46" cy="323.46" r="1.2"/></g>
<g fill="#8e1636"><circle cx="478" cy="246.54" r="1.2"/><circle cx="476.65" cy="299.81" r="1.2"/><circle cx="478.96" cy="298.85" r="1.2"/><circle cx="476.08" cy="311.92" r="1.2"/><circle cx="479.92" cy="311.92" r="1.2"/><circle cx="478" cy="314.62" r="1.2"/><circle cx="471.27" cy="318.85" r="1.2"/><circle cx="476.08" cy="318.85" r="1.2"/><circle cx="480.88" cy="318.85" r="1.2"/><circle cx="485.69" cy="318.85" r="1.2"/><circle cx="464.54" cy="323.08" r="1.2"/><circle cx="469.35" cy="323.08" r="1.2"/><circle cx="474.15" cy="323.08" r="1.2"/><circle cx="478.96" cy="323.08" r="1.2"/><circle cx="483.77" cy="323.08" r="1.2"/><circle cx="488.58" cy="323.08" r="1.2"/><circle cx="493.38" cy="323.08" r="1.2"/><circle cx="462.62" cy="325.38" r="1.2"/><circle cx="468.38" cy="325.38" r="1.2"/><circle cx="474.15" cy="325.38" r="1.2"/><circle cx="479.92" cy="325.38" r="1.2"/><circle cx="484.73" cy="325.38" r="1.2"/><circle cx="490.5" cy="325.38" r="1.2"/><circle cx="494.35" cy="325.38" r="1.2"/></g>
<line x1="409.5" y1="306.5" x2="442.7" y2="306.5" stroke="#1a1a1a" stroke-width="1.35"/>
<line x1="426.1" y1="298.5" x2="426.1" y2="309.8" stroke="#1a1a1a" stroke-width="1.1"/>
<line x1="417.5" y1="298.5" x2="434.7" y2="298.5" stroke="#1a1a1a" stroke-width="1.1"/>
<line x1="417.5" y1="309.8" x2="434.7" y2="309.8" stroke="#1a1a1a" stroke-width="1.1"/>
<line x1="461.4" y1="323.5" x2="494.6" y2="323.5" stroke="#1a1a1a" stroke-width="1.35"/>
<line x1="478" y1="318.5" x2="478" y2="326" stroke="#1a1a1a" stroke-width="1.1"/>
<line x1="469.4" y1="318.5" x2="486.6" y2="318.5" stroke="#1a1a1a" stroke-width="1.1"/>
<line x1="469.4" y1="326" x2="486.6" y2="326" stroke="#1a1a1a" stroke-width="1.1"/>
<text x="7.3" y="369.5" font-size="12.4" font-weight="bold" style="fill:#111;stroke:#111;stroke-width:0.25">G</text>
<text transform="translate(15,440) rotate(-90)" text-anchor="middle" font-size="9.6" style="stroke:#222;stroke-width:0.42" textLength="31.7" lengthAdjust="spacingAndGlyphs">PC<tspan font-size="6.6" dy="2.6">tot</tspan><tspan dy="-2.6"> (nM)</tspan></text>
<line x1="48.15" y1="377.5" x2="48.15" y2="502.7" stroke="#474747" stroke-width="1.75"/>
<line x1="47.35" y1="501.9" x2="167.7" y2="501.9" stroke="#474747" stroke-width="1.75"/>
<line x1="44.65" y1="501.9" x2="48.15" y2="501.9" stroke="#474747" stroke-width="1"/>
<text x="41.35" y="504.8" font-size="8.6" text-anchor="end" style="stroke:#222;stroke-width:0.28">0</text>
<line x1="44.65" y1="461.43" x2="48.15" y2="461.43" stroke="#474747" stroke-width="1"/>
<text x="41.35" y="464.33" font-size="8.6" text-anchor="end" style="stroke:#222;stroke-width:0.28">500</text>
<line x1="44.65" y1="420.97" x2="48.15" y2="420.97" stroke="#474747" stroke-width="1"/>
<text x="41.35" y="423.87" font-size="8.6" text-anchor="end" style="stroke:#222;stroke-width:0.28">1000</text>
<line x1="44.65" y1="380.5" x2="48.15" y2="380.5" stroke="#474747" stroke-width="1"/>
<text x="41.35" y="383.4" font-size="8.6" text-anchor="end" style="stroke:#222;stroke-width:0.28">1500</text>
<line x1="82.3" y1="501.9" x2="82.3" y2="505.1" stroke="#474747" stroke-width="1"/>
<line x1="134.1" y1="501.9" x2="134.1" y2="505.1" stroke="#474747" stroke-width="1"/>
<text x="82.3" y="516.1" font-size="8.6" text-anchor="middle" style="stroke:#222;stroke-width:0.28" textLength="30.5" lengthAdjust="spacingAndGlyphs">Controls</text>
<text x="134.1" y="516.1" font-size="8.6" text-anchor="middle" style="stroke:#222;stroke-width:0.28" textLength="16.5" lengthAdjust="spacingAndGlyphs">APS</text>
<path d="M82.3,403.5V396.6H134.1V439.6" fill="none" stroke="#333" stroke-width="1"/>
<circle cx="103.32" cy="390" r="1.4" fill="#1a1a1a"/>
<circle cx="106.57" cy="390" r="1.4" fill="#1a1a1a"/>
<circle cx="109.82" cy="390" r="1.4" fill="#1a1a1a"/>
<circle cx="113.07" cy="390" r="1.4" fill="#1a1a1a"/>
<g fill="#c2ecfa"><circle cx="82.5" cy="411.15" r="2.2"/><circle cx="82.5" cy="418.85" r="2.2"/><circle cx="82.5" cy="433.85" r="2.2"/><circle cx="82.5" cy="440.38" r="2.2"/><circle cx="82.5" cy="444.23" r="2.2"/><circle cx="80.19" cy="451.15" r="2.2"/><circle cx="84.62" cy="451.15" r="2.2"/><circle cx="80.19" cy="453.08" r="2.2"/><circle cx="84.62" cy="453.08" r="2.2"/><circle cx="77.69" cy="455.77" r="2.2"/><circle cx="82.5" cy="455.77" r="2.2"/><circle cx="86.92" cy="455.77" r="2.2"/><circle cx="75.38" cy="458.85" r="2.2"/><circle cx="80.19" cy="458.85" r="2.2"/><circle cx="84.62" cy="458.85" r="2.2"/><circle cx="89.23" cy="458.85" r="2.2"/><circle cx="70.58" cy="461.54" r="2.2"/><circle cx="75.38" cy="461.54" r="2.2"/><circle cx="80.19" cy="461.54" r="2.2"/><circle cx="89.23" cy="461.54" r="2.2"/><circle cx="94.23" cy="461.54" r="2.2"/><circle cx="70.58" cy="465" r="2.2"/><circle cx="75.38" cy="465" r="2.2"/><circle cx="80.19" cy="465" r="2.2"/><circle cx="84.62" cy="465" r="2.2"/><circle cx="89.23" cy="465" r="2.2"/><circle cx="94.23" cy="465" r="2.2"/><circle cx="66.15" cy="468.85" r="2.2"/><circle cx="70.58" cy="468.85" r="2.2"/><circle cx="75.38" cy="468.85" r="2.2"/><circle cx="80.19" cy="468.85" r="2.2"/><circle cx="89.23" cy="468.85" r="2.2"/><circle cx="94.23" cy="468.85" r="2.2"/><circle cx="98.46" cy="468.85" r="2.2"/><circle cx="66.15" cy="473.08" r="2.2"/><circle cx="70.58" cy="473.08" r="2.2"/><circle cx="75.38" cy="473.08" r="2.2"/><circle cx="80.19" cy="473.08" r="2.2"/><circle cx="84.62" cy="473.08" r="2.2"/><circle cx="89.23" cy="473.08" r="2.2"/><circle cx="94.23" cy="473.08" r="2.2"/><circle cx="98.46" cy="473.08" r="2.2"/><circle cx="75.38" cy="477.5" r="2.2"/><circle cx="80.19" cy="477.5" r="2.2"/><circle cx="89.23" cy="477.5" r="2.2"/><circle cx="75.38" cy="480" r="2.2"/><circle cx="80.19" cy="480" r="2.2"/><circle cx="84.62" cy="480" r="2.2"/><circle cx="89.23" cy="480" r="2.2"/><circle cx="94.23" cy="480" r="2.2"/><circle cx="75.38" cy="483.27" r="2.2"/><circle cx="80.19" cy="483.27" r="2.2"/><circle cx="84.62" cy="483.27" r="2.2"/><circle cx="89.23" cy="483.27" r="2.2"/><circle cx="75.38" cy="486.73" r="2.2"/><circle cx="80.19" cy="486.73" r="2.2"/><circle cx="84.62" cy="486.73" r="2.2"/><circle cx="89.23" cy="486.73" r="2.2"/><circle cx="80.19" cy="490" r="2.2"/><circle cx="84.62" cy="490" r="2.2"/></g>
<g fill="#f6d0da"><circle cx="134.04" cy="447.31" r="2.2"/><circle cx="134.04" cy="451.15" r="2.2"/><circle cx="134.04" cy="455.38" r="2.2"/><circle cx="134.04" cy="465" r="2.2"/><circle cx="129.23" cy="471.73" r="2.2"/><circle cx="138.85" cy="473.08" r="2.2"/><circle cx="134.04" cy="474.62" r="2.2"/><circle cx="124.42" cy="479.42" r="2.2"/><circle cx="129.23" cy="479.42" r="2.2"/><circle cx="138.85" cy="479.42" r="2.2"/><circle cx="134.04" cy="479.42" r="2.2"/><circle cx="119.62" cy="484.23" r="2.2"/><circle cx="124.42" cy="484.23" r="2.2"/><circle cx="129.23" cy="484.23" r="2.2"/><circle cx="134.04" cy="484.23" r="2.2"/><circle cx="138.85" cy="484.23" r="2.2"/><circle cx="143.65" cy="484.23" r="2.2"/><circle cx="149.42" cy="484.23" r="2.2"/><circle cx="119.62" cy="488.46" r="2.2"/><circle cx="124.42" cy="488.46" r="2.2"/><circle cx="129.23" cy="488.46" r="2.2"/><circle cx="138.85" cy="488.46" r="2.2"/><circle cx="143.65" cy="488.46" r="2.2"/><circle cx="148.46" cy="488.46" r="2.2"/><circle cx="124.42" cy="491.35" r="2.2"/><circle cx="129.23" cy="491.35" r="2.2"/><circle cx="134.04" cy="491.35" r="2.2"/><circle cx="138.85" cy="491.35" r="2.2"/><circle cx="129.23" cy="494.42" r="2.2"/><circle cx="134.04" cy="494.42" r="2.2"/><circle cx="138.85" cy="494.42" r="2.2"/><circle cx="129.23" cy="497.31" r="2.2"/></g>
<g fill="#2a84b6"><circle cx="82.5" cy="411.15" r="1.2"/><circle cx="82.5" cy="418.85" r="1.2"/><circle cx="82.5" cy="433.85" r="1.2"/><circle cx="82.5" cy="440.38" r="1.2"/><circle cx="82.5" cy="444.23" r="1.2"/><circle cx="80.19" cy="451.15" r="1.2"/><circle cx="84.62" cy="451.15" r="1.2"/><circle cx="80.19" cy="453.08" r="1.2"/><circle cx="84.62" cy="453.08" r="1.2"/><circle cx="77.69" cy="455.77" r="1.2"/><circle cx="82.5" cy="455.77" r="1.2"/><circle cx="86.92" cy="455.77" r="1.2"/><circle cx="75.38" cy="458.85" r="1.2"/><circle cx="80.19" cy="458.85" r="1.2"/><circle cx="84.62" cy="458.85" r="1.2"/><circle cx="89.23" cy="458.85" r="1.2"/><circle cx="70.58" cy="461.54" r="1.2"/><circle cx="75.38" cy="461.54" r="1.2"/><circle cx="80.19" cy="461.54" r="1.2"/><circle cx="89.23" cy="461.54" r="1.2"/><circle cx="94.23" cy="461.54" r="1.2"/><circle cx="70.58" cy="465" r="1.2"/><circle cx="75.38" cy="465" r="1.2"/><circle cx="80.19" cy="465" r="1.2"/><circle cx="84.62" cy="465" r="1.2"/><circle cx="89.23" cy="465" r="1.2"/><circle cx="94.23" cy="465" r="1.2"/><circle cx="66.15" cy="468.85" r="1.2"/><circle cx="70.58" cy="468.85" r="1.2"/><circle cx="75.38" cy="468.85" r="1.2"/><circle cx="80.19" cy="468.85" r="1.2"/><circle cx="89.23" cy="468.85" r="1.2"/><circle cx="94.23" cy="468.85" r="1.2"/><circle cx="98.46" cy="468.85" r="1.2"/><circle cx="66.15" cy="473.08" r="1.2"/><circle cx="70.58" cy="473.08" r="1.2"/><circle cx="75.38" cy="473.08" r="1.2"/><circle cx="80.19" cy="473.08" r="1.2"/><circle cx="84.62" cy="473.08" r="1.2"/><circle cx="89.23" cy="473.08" r="1.2"/><circle cx="94.23" cy="473.08" r="1.2"/><circle cx="98.46" cy="473.08" r="1.2"/><circle cx="75.38" cy="477.5" r="1.2"/><circle cx="80.19" cy="477.5" r="1.2"/><circle cx="89.23" cy="477.5" r="1.2"/><circle cx="75.38" cy="480" r="1.2"/><circle cx="80.19" cy="480" r="1.2"/><circle cx="84.62" cy="480" r="1.2"/><circle cx="89.23" cy="480" r="1.2"/><circle cx="94.23" cy="480" r="1.2"/><circle cx="75.38" cy="483.27" r="1.2"/><circle cx="80.19" cy="483.27" r="1.2"/><circle cx="84.62" cy="483.27" r="1.2"/><circle cx="89.23" cy="483.27" r="1.2"/><circle cx="75.38" cy="486.73" r="1.2"/><circle cx="80.19" cy="486.73" r="1.2"/><circle cx="84.62" cy="486.73" r="1.2"/><circle cx="89.23" cy="486.73" r="1.2"/><circle cx="80.19" cy="490" r="1.2"/><circle cx="84.62" cy="490" r="1.2"/></g>
<g fill="#8e1636"><circle cx="134.04" cy="447.31" r="1.2"/><circle cx="134.04" cy="451.15" r="1.2"/><circle cx="134.04" cy="455.38" r="1.2"/><circle cx="134.04" cy="465" r="1.2"/><circle cx="129.23" cy="471.73" r="1.2"/><circle cx="138.85" cy="473.08" r="1.2"/><circle cx="134.04" cy="474.62" r="1.2"/><circle cx="124.42" cy="479.42" r="1.2"/><circle cx="129.23" cy="479.42" r="1.2"/><circle cx="138.85" cy="479.42" r="1.2"/><circle cx="134.04" cy="479.42" r="1.2"/><circle cx="119.62" cy="484.23" r="1.2"/><circle cx="124.42" cy="484.23" r="1.2"/><circle cx="129.23" cy="484.23" r="1.2"/><circle cx="134.04" cy="484.23" r="1.2"/><circle cx="138.85" cy="484.23" r="1.2"/><circle cx="143.65" cy="484.23" r="1.2"/><circle cx="149.42" cy="484.23" r="1.2"/><circle cx="119.62" cy="488.46" r="1.2"/><circle cx="124.42" cy="488.46" r="1.2"/><circle cx="129.23" cy="488.46" r="1.2"/><circle cx="138.85" cy="488.46" r="1.2"/><circle cx="143.65" cy="488.46" r="1.2"/><circle cx="148.46" cy="488.46" r="1.2"/><circle cx="124.42" cy="491.35" r="1.2"/><circle cx="129.23" cy="491.35" r="1.2"/><circle cx="134.04" cy="491.35" r="1.2"/><circle cx="138.85" cy="491.35" r="1.2"/><circle cx="129.23" cy="494.42" r="1.2"/><circle cx="134.04" cy="494.42" r="1.2"/><circle cx="138.85" cy="494.42" r="1.2"/><circle cx="129.23" cy="497.31" r="1.2"/></g>
<line x1="65.7" y1="468.8" x2="98.9" y2="468.8" stroke="#1a1a1a" stroke-width="1.35"/>
<line x1="82.3" y1="461.2" x2="82.3" y2="477.5" stroke="#1a1a1a" stroke-width="1.1"/>
<line x1="73.7" y1="461.2" x2="90.9" y2="461.2" stroke="#1a1a1a" stroke-width="1.1"/>
<line x1="73.7" y1="477.5" x2="90.9" y2="477.5" stroke="#1a1a1a" stroke-width="1.1"/>
<line x1="117.5" y1="484.6" x2="150.7" y2="484.6" stroke="#1a1a1a" stroke-width="1.35"/>
<line x1="134.1" y1="477.5" x2="134.1" y2="489" stroke="#1a1a1a" stroke-width="1.1"/>
<line x1="125.5" y1="477.5" x2="142.7" y2="477.5" stroke="#1a1a1a" stroke-width="1.1"/>
<line x1="125.5" y1="489" x2="142.7" y2="489" stroke="#1a1a1a" stroke-width="1.1"/>
<text x="184.5" y="369.5" font-size="12.4" font-weight="bold" style="fill:#111;stroke:#111;stroke-width:0.25">H</text>
<text transform="translate(192.4,444) rotate(-90)" text-anchor="middle" font-size="9.6" style="stroke:#222;stroke-width:0.42" textLength="51.4" lengthAdjust="spacingAndGlyphs">PC<tspan font-size="6.6" dy="2.6">max</tspan><tspan dy="-2.6"> (nM/min)</tspan></text>
<line x1="219.85" y1="385.7" x2="219.85" y2="502.7" stroke="#474747" stroke-width="1.75"/>
<line x1="219.05" y1="501.9" x2="339.7" y2="501.9" stroke="#474747" stroke-width="1.75"/>
<line x1="216.35" y1="501.9" x2="219.85" y2="501.9" stroke="#474747" stroke-width="1"/>
<text x="213.05" y="504.8" font-size="8.6" text-anchor="end" style="stroke:#222;stroke-width:0.28">0</text>
<line x1="216.35" y1="479.26" x2="219.85" y2="479.26" stroke="#474747" stroke-width="1"/>
<text x="213.05" y="482.16" font-size="8.6" text-anchor="end" style="stroke:#222;stroke-width:0.28">100</text>
<line x1="216.35" y1="456.62" x2="219.85" y2="456.62" stroke="#474747" stroke-width="1"/>
<text x="213.05" y="459.52" font-size="8.6" text-anchor="end" style="stroke:#222;stroke-width:0.28">200</text>
<line x1="216.35" y1="433.98" x2="219.85" y2="433.98" stroke="#474747" stroke-width="1"/>
<text x="213.05" y="436.88" font-size="8.6" text-anchor="end" style="stroke:#222;stroke-width:0.28">300</text>
<line x1="216.35" y1="411.34" x2="219.85" y2="411.34" stroke="#474747" stroke-width="1"/>
<text x="213.05" y="414.24" font-size="8.6" text-anchor="end" style="stroke:#222;stroke-width:0.28">400</text>
<line x1="216.35" y1="388.7" x2="219.85" y2="388.7" stroke="#474747" stroke-width="1"/>
<text x="213.05" y="391.6" font-size="8.6" text-anchor="end" style="stroke:#222;stroke-width:0.28">500</text>
<line x1="251.9" y1="501.9" x2="251.9" y2="505.1" stroke="#474747" stroke-width="1"/>
<line x1="300.2" y1="501.9" x2="300.2" y2="505.1" stroke="#474747" stroke-width="1"/>
<text x="251.9" y="516.1" font-size="8.6" text-anchor="middle" style="stroke:#222;stroke-width:0.28" textLength="30.5" lengthAdjust="spacingAndGlyphs">Controls</text>
<text x="300.2" y="516.1" font-size="8.6" text-anchor="middle" style="stroke:#222;stroke-width:0.28" textLength="16.5" lengthAdjust="spacingAndGlyphs">APS</text>
<path d="M251.9,386.9V380.9H300.2V460" fill="none" stroke="#333" stroke-width="1"/>
<circle cx="271.18" cy="374.1" r="1.4" fill="#1a1a1a"/>
<circle cx="274.43" cy="374.1" r="1.4" fill="#1a1a1a"/>
<circle cx="277.68" cy="374.1" r="1.4" fill="#1a1a1a"/>
<circle cx="280.93" cy="374.1" r="1.4" fill="#1a1a1a"/>
<g fill="#c2ecfa"><circle cx="252.04" cy="394.23" r="2.2"/><circle cx="252.04" cy="411.35" r="2.2"/><circle cx="252.04" cy="423.46" r="2.2"/><circle cx="249.54" cy="447.5" r="2.2"/><circle cx="254.54" cy="447.5" r="2.2"/><circle cx="249.54" cy="450.58" r="2.2"/><circle cx="254.54" cy="450.58" r="2.2"/><circle cx="241.08" cy="455.19" r="2.2"/><circle cx="245.69" cy="455.19" r="2.2"/><circle cx="262.62" cy="455.19" r="2.2"/><circle cx="258.38" cy="457.12" r="2.2"/><circle cx="241.08" cy="458.46" r="2.2"/><circle cx="245.69" cy="458.46" r="2.2"/><circle cx="262.62" cy="458.46" r="2.2"/><circle cx="250.12" cy="460.38" r="2.2"/><circle cx="254.54" cy="460.38" r="2.2"/><circle cx="245.69" cy="463.85" r="2.2"/><circle cx="250.12" cy="463.85" r="2.2"/><circle cx="254.54" cy="463.85" r="2.2"/><circle cx="258.38" cy="463.85" r="2.2"/><circle cx="245.69" cy="468.08" r="2.2"/><circle cx="250.12" cy="468.08" r="2.2"/><circle cx="254.54" cy="468.08" r="2.2"/><circle cx="262.62" cy="468.08" r="2.2"/><circle cx="236.65" cy="471.54" r="2.2"/><circle cx="241.08" cy="471.54" r="2.2"/><circle cx="245.69" cy="471.54" r="2.2"/><circle cx="250.12" cy="471.54" r="2.2"/><circle cx="254.54" cy="471.54" r="2.2"/><circle cx="258.38" cy="471.54" r="2.2"/><circle cx="262.62" cy="471.54" r="2.2"/><circle cx="267.04" cy="471.54" r="2.2"/><circle cx="236.65" cy="474.81" r="2.2"/><circle cx="241.08" cy="474.81" r="2.2"/><circle cx="245.69" cy="474.81" r="2.2"/><circle cx="250.12" cy="474.81" r="2.2"/><circle cx="254.54" cy="474.81" r="2.2"/><circle cx="262.62" cy="474.81" r="2.2"/><circle cx="241.08" cy="478.27" r="2.2"/><circle cx="245.69" cy="478.27" r="2.2"/><circle cx="250.12" cy="478.27" r="2.2"/><circle cx="254.54" cy="478.27" r="2.2"/><circle cx="258.38" cy="478.27" r="2.2"/><circle cx="262.62" cy="478.27" r="2.2"/><circle cx="245.69" cy="480.58" r="2.2"/><circle cx="262.62" cy="480.58" r="2.2"/><circle cx="241.08" cy="483.46" r="2.2"/><circle cx="245.69" cy="483.46" r="2.2"/><circle cx="250.12" cy="483.46" r="2.2"/><circle cx="254.54" cy="483.46" r="2.2"/><circle cx="258.38" cy="483.46" r="2.2"/><circle cx="262.62" cy="483.46" r="2.2"/><circle cx="245.69" cy="486.92" r="2.2"/><circle cx="254.54" cy="486.92" r="2.2"/><circle cx="258.38" cy="486.92" r="2.2"/><circle cx="245.69" cy="490.96" r="2.2"/><circle cx="250.12" cy="490.96" r="2.2"/><circle cx="254.54" cy="490.96" r="2.2"/><circle cx="258.38" cy="490.96" r="2.2"/><circle cx="250.12" cy="493.65" r="2.2"/></g>
<g fill="#f6d0da"><circle cx="300.5" cy="467.31" r="2.2"/><circle cx="300.5" cy="471.15" r="2.2"/><circle cx="300.5" cy="480.19" r="2.2"/><circle cx="296.27" cy="484.04" r="2.2"/><circle cx="304.92" cy="484.62" r="2.2"/><circle cx="300.5" cy="485.96" r="2.2"/><circle cx="296.27" cy="490" r="2.2"/><circle cx="301.08" cy="490" r="2.2"/><circle cx="287.62" cy="494.62" r="2.2"/><circle cx="291.46" cy="494.62" r="2.2"/><circle cx="296.27" cy="494.62" r="2.2"/><circle cx="301.08" cy="494.62" r="2.2"/><circle cx="305.88" cy="494.62" r="2.2"/><circle cx="310.69" cy="494.62" r="2.2"/><circle cx="315.5" cy="494.62" r="2.2"/><circle cx="285.69" cy="497.5" r="2.2"/><circle cx="290.5" cy="497.5" r="2.2"/><circle cx="295.31" cy="497.5" r="2.2"/><circle cx="300.12" cy="497.5" r="2.2"/><circle cx="304.92" cy="497.5" r="2.2"/><circle cx="309.73" cy="497.5" r="2.2"/><circle cx="314.54" cy="497.5" r="2.2"/><circle cx="296.27" cy="500" r="2.2"/><circle cx="304.92" cy="500" r="2.2"/></g>
<g fill="#2a84b6"><circle cx="252.04" cy="394.23" r="1.2"/><circle cx="252.04" cy="411.35" r="1.2"/><circle cx="252.04" cy="423.46" r="1.2"/><circle cx="249.54" cy="447.5" r="1.2"/><circle cx="254.54" cy="447.5" r="1.2"/><circle cx="249.54" cy="450.58" r="1.2"/><circle cx="254.54" cy="450.58" r="1.2"/><circle cx="241.08" cy="455.19" r="1.2"/><circle cx="245.69" cy="455.19" r="1.2"/><circle cx="262.62" cy="455.19" r="1.2"/><circle cx="258.38" cy="457.12" r="1.2"/><circle cx="241.08" cy="458.46" r="1.2"/><circle cx="245.69" cy="458.46" r="1.2"/><circle cx="262.62" cy="458.46" r="1.2"/><circle cx="250.12" cy="460.38" r="1.2"/><circle cx="254.54" cy="460.38" r="1.2"/><circle cx="245.69" cy="463.85" r="1.2"/><circle cx="250.12" cy="463.85" r="1.2"/><circle cx="254.54" cy="463.85" r="1.2"/><circle cx="258.38" cy="463.85" r="1.2"/><circle cx="245.69" cy="468.08" r="1.2"/><circle cx="250.12" cy="468.08" r="1.2"/><circle cx="254.54" cy="468.08" r="1.2"/><circle cx="262.62" cy="468.08" r="1.2"/><circle cx="236.65" cy="471.54" r="1.2"/><circle cx="241.08" cy="471.54" r="1.2"/><circle cx="245.69" cy="471.54" r="1.2"/><circle cx="250.12" cy="471.54" r="1.2"/><circle cx="254.54" cy="471.54" r="1.2"/><circle cx="258.38" cy="471.54" r="1.2"/><circle cx="262.62" cy="471.54" r="1.2"/><circle cx="267.04" cy="471.54" r="1.2"/><circle cx="236.65" cy="474.81" r="1.2"/><circle cx="241.08" cy="474.81" r="1.2"/><circle cx="245.69" cy="474.81" r="1.2"/><circle cx="250.12" cy="474.81" r="1.2"/><circle cx="254.54" cy="474.81" r="1.2"/><circle cx="262.62" cy="474.81" r="1.2"/><circle cx="241.08" cy="478.27" r="1.2"/><circle cx="245.69" cy="478.27" r="1.2"/><circle cx="250.12" cy="478.27" r="1.2"/><circle cx="254.54" cy="478.27" r="1.2"/><circle cx="258.38" cy="478.27" r="1.2"/><circle cx="262.62" cy="478.27" r="1.2"/><circle cx="245.69" cy="480.58" r="1.2"/><circle cx="262.62" cy="480.58" r="1.2"/><circle cx="241.08" cy="483.46" r="1.2"/><circle cx="245.69" cy="483.46" r="1.2"/><circle cx="250.12" cy="483.46" r="1.2"/><circle cx="254.54" cy="483.46" r="1.2"/><circle cx="258.38" cy="483.46" r="1.2"/><circle cx="262.62" cy="483.46" r="1.2"/><circle cx="245.69" cy="486.92" r="1.2"/><circle cx="254.54" cy="486.92" r="1.2"/><circle cx="258.38" cy="486.92" r="1.2"/><circle cx="245.69" cy="490.96" r="1.2"/><circle cx="250.12" cy="490.96" r="1.2"/><circle cx="254.54" cy="490.96" r="1.2"/><circle cx="258.38" cy="490.96" r="1.2"/><circle cx="250.12" cy="493.65" r="1.2"/></g>
<g fill="#8e1636"><circle cx="300.5" cy="467.31" r="1.2"/><circle cx="300.5" cy="471.15" r="1.2"/><circle cx="300.5" cy="480.19" r="1.2"/><circle cx="296.27" cy="484.04" r="1.2"/><circle cx="304.92" cy="484.62" r="1.2"/><circle cx="300.5" cy="485.96" r="1.2"/><circle cx="296.27" cy="490" r="1.2"/><circle cx="301.08" cy="490" r="1.2"/><circle cx="287.62" cy="494.62" r="1.2"/><circle cx="291.46" cy="494.62" r="1.2"/><circle cx="296.27" cy="494.62" r="1.2"/><circle cx="301.08" cy="494.62" r="1.2"/><circle cx="305.88" cy="494.62" r="1.2"/><circle cx="310.69" cy="494.62" r="1.2"/><circle cx="315.5" cy="494.62" r="1.2"/><circle cx="285.69" cy="497.5" r="1.2"/><circle cx="290.5" cy="497.5" r="1.2"/><circle cx="295.31" cy="497.5" r="1.2"/><circle cx="300.12" cy="497.5" r="1.2"/><circle cx="304.92" cy="497.5" r="1.2"/><circle cx="309.73" cy="497.5" r="1.2"/><circle cx="314.54" cy="497.5" r="1.2"/><circle cx="296.27" cy="500" r="1.2"/><circle cx="304.92" cy="500" r="1.2"/></g>
<line x1="235.3" y1="471.5" x2="268.5" y2="471.5" stroke="#1a1a1a" stroke-width="1.35"/>
<line x1="251.9" y1="459" x2="251.9" y2="479.6" stroke="#1a1a1a" stroke-width="1.1"/>
<line x1="243.3" y1="459" x2="260.5" y2="459" stroke="#1a1a1a" stroke-width="1.1"/>
<line x1="243.3" y1="479.6" x2="260.5" y2="479.6" stroke="#1a1a1a" stroke-width="1.1"/>
<line x1="283.6" y1="494.2" x2="316.8" y2="494.2" stroke="#1a1a1a" stroke-width="1.35"/>
<line x1="300.2" y1="486" x2="300.2" y2="497" stroke="#1a1a1a" stroke-width="1.1"/>
<line x1="291.6" y1="486" x2="308.8" y2="486" stroke="#1a1a1a" stroke-width="1.1"/>
<line x1="291.6" y1="497" x2="308.8" y2="497" stroke="#1a1a1a" stroke-width="1.1"/>
<text x="356.7" y="369.5" font-size="12.4" font-weight="bold" style="fill:#111;stroke:#111;stroke-width:0.25">I</text>
<text transform="translate(364,440.8) rotate(-90)" text-anchor="middle" font-size="9.6" style="stroke:#222;stroke-width:0.42" textLength="83.7" lengthAdjust="spacingAndGlyphs">PC<tspan font-size="6.6" dy="2.6">max</tspan><tspan dy="-2.6"> (%inhibition by TM)</tspan></text>
<line x1="392.15" y1="378.3" x2="392.15" y2="502.7" stroke="#474747" stroke-width="1.75"/>
<line x1="391.35" y1="501.9" x2="513.1" y2="501.9" stroke="#474747" stroke-width="1.75"/>
<line x1="388.65" y1="501.9" x2="392.15" y2="501.9" stroke="#474747" stroke-width="1"/>
<text x="385.35" y="504.8" font-size="8.6" text-anchor="end" style="stroke:#222;stroke-width:0.28">0</text>
<line x1="388.65" y1="461.7" x2="392.15" y2="461.7" stroke="#474747" stroke-width="1"/>
<text x="385.35" y="464.6" font-size="8.6" text-anchor="end" style="stroke:#222;stroke-width:0.28">50</text>
<line x1="388.65" y1="421.5" x2="392.15" y2="421.5" stroke="#474747" stroke-width="1"/>
<text x="385.35" y="424.4" font-size="8.6" text-anchor="end" style="stroke:#222;stroke-width:0.28">100</text>
<line x1="388.65" y1="381.3" x2="392.15" y2="381.3" stroke="#474747" stroke-width="1"/>
<text x="385.35" y="384.2" font-size="8.6" text-anchor="end" style="stroke:#222;stroke-width:0.28">150</text>
<line x1="426.5" y1="501.9" x2="426.5" y2="505.1" stroke="#474747" stroke-width="1"/>
<line x1="478.5" y1="501.9" x2="478.5" y2="505.1" stroke="#474747" stroke-width="1"/>
<text x="426.5" y="516.1" font-size="8.6" text-anchor="middle" style="stroke:#222;stroke-width:0.28" textLength="30.5" lengthAdjust="spacingAndGlyphs">Controls</text>
<text x="478.5" y="516.1" font-size="8.6" text-anchor="middle" style="stroke:#222;stroke-width:0.28" textLength="16.5" lengthAdjust="spacingAndGlyphs">APS</text>
<path d="M426.5,425.4V406.8H478.5V413.8" fill="none" stroke="#333" stroke-width="1"/>
<circle cx="447.62" cy="400" r="1.4" fill="#1a1a1a"/>
<circle cx="450.88" cy="400" r="1.4" fill="#1a1a1a"/>
<circle cx="454.12" cy="400" r="1.4" fill="#1a1a1a"/>
<circle cx="457.38" cy="400" r="1.4" fill="#1a1a1a"/>
<g fill="#c2ecfa"><circle cx="426.46" cy="433.08" r="2.2"/><circle cx="426.46" cy="442.69" r="2.2"/><circle cx="425.12" cy="449.81" r="2.2"/><circle cx="428" cy="449.23" r="2.2"/><circle cx="425.12" cy="456.54" r="2.2"/><circle cx="427.62" cy="457.5" r="2.2"/><circle cx="425.12" cy="461.35" r="2.2"/><circle cx="427.62" cy="462.31" r="2.2"/><circle cx="424.15" cy="470.96" r="2.2"/><circle cx="428.96" cy="471.54" r="2.2"/><circle cx="431.85" cy="470" r="2.2"/><circle cx="421.27" cy="472.88" r="2.2"/><circle cx="426.46" cy="472.88" r="2.2"/><circle cx="426.46" cy="475.77" r="2.2"/><circle cx="431.85" cy="475.77" r="2.2"/><circle cx="418.77" cy="476.73" r="2.2"/><circle cx="414.54" cy="479.81" r="2.2"/><circle cx="418.38" cy="479.81" r="2.2"/><circle cx="422.23" cy="479.81" r="2.2"/><circle cx="431.85" cy="479.81" r="2.2"/><circle cx="435.69" cy="479.81" r="2.2"/><circle cx="411.65" cy="482.5" r="2.2"/><circle cx="415.5" cy="482.5" r="2.2"/><circle cx="419.35" cy="482.5" r="2.2"/><circle cx="424.15" cy="482.5" r="2.2"/><circle cx="429.92" cy="482.5" r="2.2"/><circle cx="434.73" cy="482.5" r="2.2"/><circle cx="439.54" cy="482.5" r="2.2"/><circle cx="411.65" cy="485.19" r="2.2"/><circle cx="415.5" cy="485.19" r="2.2"/><circle cx="419.35" cy="485.19" r="2.2"/><circle cx="424.15" cy="485.19" r="2.2"/><circle cx="429.92" cy="485.19" r="2.2"/><circle cx="434.73" cy="485.19" r="2.2"/><circle cx="439.54" cy="485.19" r="2.2"/><circle cx="442.42" cy="487.31" r="2.2"/><circle cx="415.5" cy="488.27" r="2.2"/><circle cx="419.35" cy="488.27" r="2.2"/><circle cx="424.15" cy="488.27" r="2.2"/><circle cx="429.92" cy="488.27" r="2.2"/><circle cx="434.73" cy="488.27" r="2.2"/><circle cx="438.58" cy="488.27" r="2.2"/><circle cx="419.35" cy="491.15" r="2.2"/><circle cx="424.15" cy="491.15" r="2.2"/><circle cx="429.92" cy="491.15" r="2.2"/><circle cx="434.73" cy="491.15" r="2.2"/><circle cx="424.15" cy="494.04" r="2.2"/><circle cx="429.92" cy="494.04" r="2.2"/><circle cx="425.12" cy="498.85" r="2.2"/><circle cx="427.62" cy="500.38" r="2.2"/></g>
<g fill="#f6d0da"><circle cx="478.58" cy="420.96" r="2.2"/><circle cx="478.58" cy="467.12" r="2.2"/><circle cx="478.58" cy="476.73" r="2.2"/><circle cx="479.92" cy="482.5" r="2.2"/><circle cx="477.04" cy="483.85" r="2.2"/><circle cx="478.58" cy="489.23" r="2.2"/><circle cx="479.92" cy="491.15" r="2.2"/><circle cx="477.04" cy="492.12" r="2.2"/><circle cx="476.08" cy="495.96" r="2.2"/><circle cx="480.88" cy="495" r="2.2"/><circle cx="464.54" cy="499.81" r="2.2"/><circle cx="469.35" cy="499.81" r="2.2"/><circle cx="474.15" cy="499.81" r="2.2"/><circle cx="478.96" cy="499.81" r="2.2"/><circle cx="483.77" cy="499.81" r="2.2"/><circle cx="488.58" cy="499.81" r="2.2"/><circle cx="493.38" cy="499.81" r="2.2"/><circle cx="466.46" cy="497.88" r="2.2"/><circle cx="490.5" cy="497.88" r="2.2"/></g>
<g fill="#2a84b6"><circle cx="426.46" cy="433.08" r="1.2"/><circle cx="426.46" cy="442.69" r="1.2"/><circle cx="425.12" cy="449.81" r="1.2"/><circle cx="428" cy="449.23" r="1.2"/><circle cx="425.12" cy="456.54" r="1.2"/><circle cx="427.62" cy="457.5" r="1.2"/><circle cx="425.12" cy="461.35" r="1.2"/><circle cx="427.62" cy="462.31" r="1.2"/><circle cx="424.15" cy="470.96" r="1.2"/><circle cx="428.96" cy="471.54" r="1.2"/><circle cx="431.85" cy="470" r="1.2"/><circle cx="421.27" cy="472.88" r="1.2"/><circle cx="426.46" cy="472.88" r="1.2"/><circle cx="426.46" cy="475.77" r="1.2"/><circle cx="431.85" cy="475.77" r="1.2"/><circle cx="418.77" cy="476.73" r="1.2"/><circle cx="414.54" cy="479.81" r="1.2"/><circle cx="418.38" cy="479.81" r="1.2"/><circle cx="422.23" cy="479.81" r="1.2"/><circle cx="431.85" cy="479.81" r="1.2"/><circle cx="435.69" cy="479.81" r="1.2"/><circle cx="411.65" cy="482.5" r="1.2"/><circle cx="415.5" cy="482.5" r="1.2"/><circle cx="419.35" cy="482.5" r="1.2"/><circle cx="424.15" cy="482.5" r="1.2"/><circle cx="429.92" cy="482.5" r="1.2"/><circle cx="434.73" cy="482.5" r="1.2"/><circle cx="439.54" cy="482.5" r="1.2"/><circle cx="411.65" cy="485.19" r="1.2"/><circle cx="415.5" cy="485.19" r="1.2"/><circle cx="419.35" cy="485.19" r="1.2"/><circle cx="424.15" cy="485.19" r="1.2"/><circle cx="429.92" cy="485.19" r="1.2"/><circle cx="434.73" cy="485.19" r="1.2"/><circle cx="439.54" cy="485.19" r="1.2"/><circle cx="442.42" cy="487.31" r="1.2"/><circle cx="415.5" cy="488.27" r="1.2"/><circle cx="419.35" cy="488.27" r="1.2"/><circle cx="424.15" cy="488.27" r="1.2"/><circle cx="429.92" cy="488.27" r="1.2"/><circle cx="434.73" cy="488.27" r="1.2"/><circle cx="438.58" cy="488.27" r="1.2"/><circle cx="419.35" cy="491.15" r="1.2"/><circle cx="424.15" cy="491.15" r="1.2"/><circle cx="429.92" cy="491.15" r="1.2"/><circle cx="434.73" cy="491.15" r="1.2"/><circle cx="424.15" cy="494.04" r="1.2"/><circle cx="429.92" cy="494.04" r="1.2"/><circle cx="425.12" cy="498.85" r="1.2"/><circle cx="427.62" cy="500.38" r="1.2"/></g>
<g fill="#8e1636"><circle cx="478.58" cy="420.96" r="1.2"/><circle cx="478.58" cy="467.12" r="1.2"/><circle cx="478.58" cy="476.73" r="1.2"/><circle cx="479.92" cy="482.5" r="1.2"/><circle cx="477.04" cy="483.85" r="1.2"/><circle cx="478.58" cy="489.23" r="1.2"/><circle cx="479.92" cy="491.15" r="1.2"/><circle cx="477.04" cy="492.12" r="1.2"/><circle cx="476.08" cy="495.96" r="1.2"/><circle cx="480.88" cy="495" r="1.2"/><circle cx="464.54" cy="499.81" r="1.2"/><circle cx="469.35" cy="499.81" r="1.2"/><circle cx="474.15" cy="499.81" r="1.2"/><circle cx="478.96" cy="499.81" r="1.2"/><circle cx="483.77" cy="499.81" r="1.2"/><circle cx="488.58" cy="499.81" r="1.2"/><circle cx="493.38" cy="499.81" r="1.2"/><circle cx="466.46" cy="497.88" r="1.2"/><circle cx="490.5" cy="497.88" r="1.2"/></g>
<line x1="409.9" y1="484.4" x2="443.1" y2="484.4" stroke="#1a1a1a" stroke-width="1.35"/>
<line x1="426.5" y1="475.4" x2="426.5" y2="489.2" stroke="#1a1a1a" stroke-width="1.1"/>
<line x1="417.9" y1="475.4" x2="435.1" y2="475.4" stroke="#1a1a1a" stroke-width="1.1"/>
<line x1="417.9" y1="489.2" x2="435.1" y2="489.2" stroke="#1a1a1a" stroke-width="1.1"/>
<line x1="461.9" y1="497.5" x2="495.1" y2="497.5" stroke="#1a1a1a" stroke-width="1.35"/>
<line x1="478.5" y1="489.2" x2="478.5" y2="501.2" stroke="#1a1a1a" stroke-width="1.1"/>
<line x1="469.9" y1="489.2" x2="487.1" y2="489.2" stroke="#1a1a1a" stroke-width="1.1"/>
<line x1="469.9" y1="501.2" x2="487.1" y2="501.2" stroke="#1a1a1a" stroke-width="1.1"/>
<text x="7.3" y="545" font-size="12.4" font-weight="bold" style="fill:#111;stroke:#111;stroke-width:0.25" textLength="4.2" lengthAdjust="spacingAndGlyphs">J</text>
<text transform="translate(14.6,614.8) rotate(-90)" text-anchor="middle" font-size="9.6" style="stroke:#222;stroke-width:0.42" textLength="31.5" lengthAdjust="spacingAndGlyphs">T-AT (nM)</text>
<line x1="48.15" y1="552.5" x2="48.15" y2="677.65" stroke="#474747" stroke-width="1.75"/>
<line x1="47.35" y1="676.85" x2="167.7" y2="676.85" stroke="#474747" stroke-width="1.75"/>
<line x1="44.65" y1="676.85" x2="48.15" y2="676.85" stroke="#474747" stroke-width="1"/>
<text x="41.35" y="679.75" font-size="8.6" text-anchor="end" style="stroke:#222;stroke-width:0.28">0</text>
<line x1="44.65" y1="636.4" x2="48.15" y2="636.4" stroke="#474747" stroke-width="1"/>
<text x="41.35" y="639.3" font-size="8.6" text-anchor="end" style="stroke:#222;stroke-width:0.28">500</text>
<line x1="44.65" y1="595.95" x2="48.15" y2="595.95" stroke="#474747" stroke-width="1"/>
<text x="41.35" y="598.85" font-size="8.6" text-anchor="end" style="stroke:#222;stroke-width:0.28">1000</text>
<line x1="44.65" y1="555.5" x2="48.15" y2="555.5" stroke="#474747" stroke-width="1"/>
<text x="41.35" y="558.4" font-size="8.6" text-anchor="end" style="stroke:#222;stroke-width:0.28">1500</text>
<line x1="82.3" y1="676.85" x2="82.3" y2="680.05" stroke="#474747" stroke-width="1"/>
<line x1="134.1" y1="676.85" x2="134.1" y2="680.05" stroke="#474747" stroke-width="1"/>
<text x="82.3" y="691.05" font-size="8.6" text-anchor="middle" style="stroke:#222;stroke-width:0.28" textLength="30.5" lengthAdjust="spacingAndGlyphs">Controls</text>
<text x="134.1" y="691.05" font-size="8.6" text-anchor="middle" style="stroke:#222;stroke-width:0.28" textLength="16.5" lengthAdjust="spacingAndGlyphs">APS</text>
<path d="M82.3,583.5V576.9H134.1V614.2" fill="none" stroke="#333" stroke-width="1"/>
<circle cx="103.32" cy="570.1" r="1.4" fill="#1a1a1a"/>
<circle cx="106.57" cy="570.1" r="1.4" fill="#1a1a1a"/>
<circle cx="109.82" cy="570.1" r="1.4" fill="#1a1a1a"/>
<circle cx="113.07" cy="570.1" r="1.4" fill="#1a1a1a"/>
<g fill="#c2ecfa"><circle cx="82.5" cy="590.77" r="2.2"/><circle cx="82.5" cy="598.85" r="2.2"/><circle cx="82.5" cy="612.69" r="2.2"/><circle cx="82.5" cy="617.69" r="2.2"/><circle cx="82.5" cy="621.54" r="2.2"/><circle cx="78.27" cy="628.65" r="2.2"/><circle cx="86.54" cy="627.69" r="2.2"/><circle cx="78.27" cy="631.92" r="2.2"/><circle cx="82.5" cy="631.92" r="2.2"/><circle cx="86.54" cy="631.92" r="2.2"/><circle cx="74.42" cy="635.38" r="2.2"/><circle cx="78.27" cy="635.38" r="2.2"/><circle cx="86.54" cy="635.38" r="2.2"/><circle cx="70.58" cy="639.23" r="2.2"/><circle cx="74.42" cy="639.23" r="2.2"/><circle cx="78.27" cy="639.23" r="2.2"/><circle cx="86.54" cy="639.23" r="2.2"/><circle cx="90.38" cy="639.23" r="2.2"/><circle cx="70.58" cy="642.69" r="2.2"/><circle cx="74.42" cy="642.69" r="2.2"/><circle cx="78.27" cy="642.69" r="2.2"/><circle cx="86.54" cy="642.69" r="2.2"/><circle cx="90.38" cy="642.69" r="2.2"/><circle cx="94.62" cy="642.69" r="2.2"/><circle cx="66.73" cy="645.96" r="2.2"/><circle cx="70.58" cy="645.96" r="2.2"/><circle cx="74.42" cy="645.96" r="2.2"/><circle cx="78.27" cy="645.96" r="2.2"/><circle cx="86.54" cy="645.96" r="2.2"/><circle cx="90.38" cy="645.96" r="2.2"/><circle cx="98.46" cy="645.96" r="2.2"/><circle cx="66.73" cy="648.85" r="2.2"/><circle cx="74.42" cy="648.85" r="2.2"/><circle cx="78.27" cy="648.85" r="2.2"/><circle cx="86.54" cy="648.85" r="2.2"/><circle cx="90.38" cy="648.85" r="2.2"/><circle cx="98.46" cy="648.85" r="2.2"/><circle cx="74.42" cy="651.73" r="2.2"/><circle cx="78.27" cy="651.73" r="2.2"/><circle cx="86.54" cy="651.73" r="2.2"/><circle cx="90.38" cy="651.73" r="2.2"/><circle cx="74.42" cy="655.58" r="2.2"/><circle cx="78.27" cy="655.58" r="2.2"/><circle cx="82.5" cy="655.58" r="2.2"/><circle cx="86.54" cy="655.58" r="2.2"/><circle cx="74.42" cy="659.42" r="2.2"/><circle cx="78.27" cy="659.42" r="2.2"/><circle cx="82.5" cy="659.42" r="2.2"/><circle cx="86.54" cy="659.42" r="2.2"/><circle cx="78.27" cy="663.27" r="2.2"/><circle cx="82.5" cy="663.27" r="2.2"/><circle cx="86.54" cy="663.27" r="2.2"/><circle cx="78.27" cy="667.12" r="2.2"/></g>
<g fill="#f6d0da"><circle cx="134.04" cy="621.54" r="2.2"/><circle cx="131.54" cy="627.69" r="2.2"/><circle cx="135.96" cy="629.23" r="2.2"/><circle cx="134.04" cy="640.19" r="2.2"/><circle cx="131.54" cy="647.5" r="2.2"/><circle cx="136.92" cy="647.5" r="2.2"/><circle cx="127.31" cy="651.92" r="2.2"/><circle cx="131.54" cy="651.92" r="2.2"/><circle cx="136.92" cy="651.92" r="2.2"/><circle cx="141.73" cy="651.92" r="2.2"/><circle cx="122.5" cy="655.58" r="2.2"/><circle cx="127.31" cy="655.58" r="2.2"/><circle cx="131.54" cy="655.58" r="2.2"/><circle cx="141.73" cy="655.58" r="2.2"/><circle cx="146.54" cy="655.58" r="2.2"/><circle cx="122.5" cy="659.62" r="2.2"/><circle cx="127.31" cy="659.62" r="2.2"/><circle cx="131.54" cy="659.62" r="2.2"/><circle cx="136.92" cy="659.62" r="2.2"/><circle cx="141.73" cy="659.62" r="2.2"/><circle cx="146.54" cy="659.62" r="2.2"/><circle cx="117.69" cy="663.85" r="2.2"/><circle cx="122.5" cy="663.85" r="2.2"/><circle cx="127.31" cy="663.85" r="2.2"/><circle cx="136.92" cy="663.85" r="2.2"/><circle cx="141.73" cy="663.85" r="2.2"/><circle cx="150.38" cy="663.85" r="2.2"/><circle cx="122.5" cy="665.58" r="2.2"/><circle cx="131.54" cy="665.58" r="2.2"/><circle cx="141.73" cy="665.58" r="2.2"/><circle cx="146.54" cy="665.58" r="2.2"/><circle cx="127.31" cy="669.04" r="2.2"/><circle cx="136.92" cy="669.04" r="2.2"/><circle cx="141.73" cy="669.04" r="2.2"/><circle cx="131.54" cy="671.54" r="2.2"/></g>
<g fill="#2a84b6"><circle cx="82.5" cy="590.77" r="1.2"/><circle cx="82.5" cy="598.85" r="1.2"/><circle cx="82.5" cy="612.69" r="1.2"/><circle cx="82.5" cy="617.69" r="1.2"/><circle cx="82.5" cy="621.54" r="1.2"/><circle cx="78.27" cy="628.65" r="1.2"/><circle cx="86.54" cy="627.69" r="1.2"/><circle cx="78.27" cy="631.92" r="1.2"/><circle cx="82.5" cy="631.92" r="1.2"/><circle cx="86.54" cy="631.92" r="1.2"/><circle cx="74.42" cy="635.38" r="1.2"/><circle cx="78.27" cy="635.38" r="1.2"/><circle cx="86.54" cy="635.38" r="1.2"/><circle cx="70.58" cy="639.23" r="1.2"/><circle cx="74.42" cy="639.23" r="1.2"/><circle cx="78.27" cy="639.23" r="1.2"/><circle cx="86.54" cy="639.23" r="1.2"/><circle cx="90.38" cy="639.23" r="1.2"/><circle cx="70.58" cy="642.69" r="1.2"/><circle cx="74.42" cy="642.69" r="1.2"/><circle cx="78.27" cy="642.69" r="1.2"/><circle cx="86.54" cy="642.69" r="1.2"/><circle cx="90.38" cy="642.69" r="1.2"/><circle cx="94.62" cy="642.69" r="1.2"/><circle cx="66.73" cy="645.96" r="1.2"/><circle cx="70.58" cy="645.96" r="1.2"/><circle cx="74.42" cy="645.96" r="1.2"/><circle cx="78.27" cy="645.96" r="1.2"/><circle cx="86.54" cy="645.96" r="1.2"/><circle cx="90.38" cy="645.96" r="1.2"/><circle cx="98.46" cy="645.96" r="1.2"/><circle cx="66.73" cy="648.85" r="1.2"/><circle cx="74.42" cy="648.85" r="1.2"/><circle cx="78.27" cy="648.85" r="1.2"/><circle cx="86.54" cy="648.85" r="1.2"/><circle cx="90.38" cy="648.85" r="1.2"/><circle cx="98.46" cy="648.85" r="1.2"/><circle cx="74.42" cy="651.73" r="1.2"/><circle cx="78.27" cy="651.73" r="1.2"/><circle cx="86.54" cy="651.73" r="1.2"/><circle cx="90.38" cy="651.73" r="1.2"/><circle cx="74.42" cy="655.58" r="1.2"/><circle cx="78.27" cy="655.58" r="1.2"/><circle cx="82.5" cy="655.58" r="1.2"/><circle cx="86.54" cy="655.58" r="1.2"/><circle cx="74.42" cy="659.42" r="1.2"/><circle cx="78.27" cy="659.42" r="1.2"/><circle cx="82.5" cy="659.42" r="1.2"/><circle cx="86.54" cy="659.42" r="1.2"/><circle cx="78.27" cy="663.27" r="1.2"/><circle cx="82.5" cy="663.27" r="1.2"/><circle cx="86.54" cy="663.27" r="1.2"/><circle cx="78.27" cy="667.12" r="1.2"/></g>
<g fill="#8e1636"><circle cx="134.04" cy="621.54" r="1.2"/><circle cx="131.54" cy="627.69" r="1.2"/><circle cx="135.96" cy="629.23" r="1.2"/><circle cx="134.04" cy="640.19" r="1.2"/><circle cx="131.54" cy="647.5" r="1.2"/><circle cx="136.92" cy="647.5" r="1.2"/><circle cx="127.31" cy="651.92" r="1.2"/><circle cx="131.54" cy="651.92" r="1.2"/><circle cx="136.92" cy="651.92" r="1.2"/><circle cx="141.73" cy="651.92" r="1.2"/><circle cx="122.5" cy="655.58" r="1.2"/><circle cx="127.31" cy="655.58" r="1.2"/><circle cx="131.54" cy="655.58" r="1.2"/><circle cx="141.73" cy="655.58" r="1.2"/><circle cx="146.54" cy="655.58" r="1.2"/><circle cx="122.5" cy="659.62" r="1.2"/><circle cx="127.31" cy="659.62" r="1.2"/><circle cx="131.54" cy="659.62" r="1.2"/><circle cx="136.92" cy="659.62" r="1.2"/><circle cx="141.73" cy="659.62" r="1.2"/><circle cx="146.54" cy="659.62" r="1.2"/><circle cx="117.69" cy="663.85" r="1.2"/><circle cx="122.5" cy="663.85" r="1.2"/><circle cx="127.31" cy="663.85" r="1.2"/><circle cx="136.92" cy="663.85" r="1.2"/><circle cx="141.73" cy="663.85" r="1.2"/><circle cx="150.38" cy="663.85" r="1.2"/><circle cx="122.5" cy="665.58" r="1.2"/><circle cx="131.54" cy="665.58" r="1.2"/><circle cx="141.73" cy="665.58" r="1.2"/><circle cx="146.54" cy="665.58" r="1.2"/><circle cx="127.31" cy="669.04" r="1.2"/><circle cx="136.92" cy="669.04" r="1.2"/><circle cx="141.73" cy="669.04" r="1.2"/><circle cx="131.54" cy="671.54" r="1.2"/></g>
<line x1="65.7" y1="645.6" x2="98.9" y2="645.6" stroke="#1a1a1a" stroke-width="1.35"/>
<line x1="82.3" y1="638.3" x2="82.3" y2="653.3" stroke="#1a1a1a" stroke-width="1.1"/>
<line x1="73.7" y1="638.3" x2="90.9" y2="638.3" stroke="#1a1a1a" stroke-width="1.1"/>
<line x1="73.7" y1="653.3" x2="90.9" y2="653.3" stroke="#1a1a1a" stroke-width="1.1"/>
<line x1="117.5" y1="660" x2="150.7" y2="660" stroke="#1a1a1a" stroke-width="1.35"/>
<line x1="134.1" y1="652.7" x2="134.1" y2="664.6" stroke="#1a1a1a" stroke-width="1.1"/>
<line x1="125.5" y1="652.7" x2="142.7" y2="652.7" stroke="#1a1a1a" stroke-width="1.1"/>
<line x1="125.5" y1="664.6" x2="142.7" y2="664.6" stroke="#1a1a1a" stroke-width="1.1"/>
<text x="184.5" y="545" font-size="12.4" font-weight="bold" style="fill:#111;stroke:#111;stroke-width:0.25">K</text>
<text transform="translate(192,614.8) rotate(-90)" text-anchor="middle" font-size="9.6" style="stroke:#222;stroke-width:0.42" textLength="38.5" lengthAdjust="spacingAndGlyphs">T-&#945;<tspan font-size="6.6" dy="2.6">2</tspan><tspan dy="-2.6">M (nM)</tspan></text>
<line x1="219.85" y1="552.5" x2="219.85" y2="677.65" stroke="#474747" stroke-width="1.75"/>
<line x1="219.05" y1="676.85" x2="339.7" y2="676.85" stroke="#474747" stroke-width="1.75"/>
<line x1="216.35" y1="676.85" x2="219.85" y2="676.85" stroke="#474747" stroke-width="1"/>
<text x="213.05" y="679.75" font-size="8.6" text-anchor="end" style="stroke:#222;stroke-width:0.28">0</text>
<line x1="216.35" y1="646.51" x2="219.85" y2="646.51" stroke="#474747" stroke-width="1"/>
<text x="213.05" y="649.41" font-size="8.6" text-anchor="end" style="stroke:#222;stroke-width:0.28">20</text>
<line x1="216.35" y1="616.17" x2="219.85" y2="616.17" stroke="#474747" stroke-width="1"/>
<text x="213.05" y="619.07" font-size="8.6" text-anchor="end" style="stroke:#222;stroke-width:0.28">40</text>
<line x1="216.35" y1="585.84" x2="219.85" y2="585.84" stroke="#474747" stroke-width="1"/>
<text x="213.05" y="588.74" font-size="8.6" text-anchor="end" style="stroke:#222;stroke-width:0.28">60</text>
<line x1="216.35" y1="555.5" x2="219.85" y2="555.5" stroke="#474747" stroke-width="1"/>
<text x="213.05" y="558.4" font-size="8.6" text-anchor="end" style="stroke:#222;stroke-width:0.28">80</text>
<line x1="254.3" y1="676.85" x2="254.3" y2="680.05" stroke="#474747" stroke-width="1"/>
<line x1="306.1" y1="676.85" x2="306.1" y2="680.05" stroke="#474747" stroke-width="1"/>
<text x="254.3" y="691.05" font-size="8.6" text-anchor="middle" style="stroke:#222;stroke-width:0.28" textLength="30.5" lengthAdjust="spacingAndGlyphs">Controls</text>
<text x="306.1" y="691.05" font-size="8.6" text-anchor="middle" style="stroke:#222;stroke-width:0.28" textLength="16.5" lengthAdjust="spacingAndGlyphs">APS</text>
<path d="M254.3,572.3V565.5H306.1V641.5" fill="none" stroke="#333" stroke-width="1"/>
<circle cx="275.33" cy="558.8" r="1.4" fill="#1a1a1a"/>
<circle cx="278.58" cy="558.8" r="1.4" fill="#1a1a1a"/>
<circle cx="281.83" cy="558.8" r="1.4" fill="#1a1a1a"/>
<circle cx="285.08" cy="558.8" r="1.4" fill="#1a1a1a"/>
<g fill="#c2ecfa"><circle cx="254.42" cy="579.62" r="2.2"/><circle cx="254.42" cy="587.69" r="2.2"/><circle cx="254.42" cy="605.58" r="2.2"/><circle cx="252.12" cy="620.77" r="2.2"/><circle cx="256.54" cy="620.77" r="2.2"/><circle cx="254.42" cy="631.54" r="2.2"/><circle cx="250.19" cy="634.23" r="2.2"/><circle cx="258.85" cy="634.23" r="2.2"/><circle cx="242.5" cy="638.27" r="2.2"/><circle cx="246.35" cy="638.27" r="2.2"/><circle cx="250.19" cy="638.27" r="2.2"/><circle cx="258.85" cy="638.27" r="2.2"/><circle cx="262.69" cy="638.27" r="2.2"/><circle cx="266.54" cy="638.27" r="2.2"/><circle cx="238.65" cy="641.54" r="2.2"/><circle cx="242.5" cy="641.54" r="2.2"/><circle cx="246.35" cy="641.54" r="2.2"/><circle cx="250.19" cy="641.54" r="2.2"/><circle cx="258.85" cy="641.54" r="2.2"/><circle cx="262.69" cy="641.54" r="2.2"/><circle cx="266.54" cy="641.54" r="2.2"/><circle cx="238.65" cy="645" r="2.2"/><circle cx="242.5" cy="645" r="2.2"/><circle cx="246.35" cy="645" r="2.2"/><circle cx="250.19" cy="645" r="2.2"/><circle cx="258.85" cy="645" r="2.2"/><circle cx="262.69" cy="645" r="2.2"/><circle cx="266.54" cy="645" r="2.2"/><circle cx="270.38" cy="645" r="2.2"/><circle cx="242.5" cy="649.23" r="2.2"/><circle cx="246.35" cy="649.23" r="2.2"/><circle cx="250.19" cy="649.23" r="2.2"/><circle cx="258.85" cy="649.23" r="2.2"/><circle cx="262.69" cy="649.23" r="2.2"/><circle cx="266.54" cy="649.23" r="2.2"/><circle cx="242.5" cy="652.31" r="2.2"/><circle cx="246.35" cy="652.31" r="2.2"/><circle cx="250.19" cy="652.31" r="2.2"/><circle cx="258.85" cy="652.31" r="2.2"/><circle cx="262.69" cy="652.31" r="2.2"/><circle cx="266.54" cy="652.31" r="2.2"/><circle cx="242.5" cy="655.96" r="2.2"/><circle cx="246.35" cy="655.96" r="2.2"/><circle cx="250.19" cy="655.96" r="2.2"/><circle cx="258.85" cy="655.96" r="2.2"/><circle cx="262.69" cy="655.96" r="2.2"/><circle cx="266.54" cy="655.96" r="2.2"/><circle cx="246.35" cy="659.81" r="2.2"/><circle cx="250.19" cy="659.81" r="2.2"/><circle cx="254.42" cy="659.81" r="2.2"/><circle cx="258.85" cy="659.81" r="2.2"/><circle cx="262.69" cy="659.81" r="2.2"/><circle cx="246.35" cy="663.08" r="2.2"/><circle cx="250.19" cy="663.08" r="2.2"/><circle cx="258.85" cy="663.08" r="2.2"/><circle cx="262.69" cy="663.08" r="2.2"/><circle cx="254.42" cy="665" r="2.2"/><circle cx="254.42" cy="669.42" r="2.2"/></g>
<g fill="#f6d0da"><circle cx="305" cy="649.23" r="2.2"/><circle cx="307.88" cy="650.77" r="2.2"/><circle cx="306.35" cy="658.46" r="2.2"/><circle cx="301.15" cy="661.35" r="2.2"/><circle cx="306.35" cy="661.35" r="2.2"/><circle cx="310.77" cy="661.35" r="2.2"/><circle cx="298.27" cy="665.77" r="2.2"/><circle cx="303.08" cy="665.77" r="2.2"/><circle cx="307.88" cy="665.77" r="2.2"/><circle cx="312.69" cy="665.77" r="2.2"/><circle cx="293.46" cy="668.27" r="2.2"/><circle cx="298.27" cy="668.27" r="2.2"/><circle cx="303.08" cy="668.27" r="2.2"/><circle cx="307.88" cy="668.27" r="2.2"/><circle cx="312.69" cy="668.27" r="2.2"/><circle cx="317.5" cy="668.27" r="2.2"/><circle cx="290.58" cy="670.38" r="2.2"/><circle cx="295.38" cy="670.38" r="2.2"/><circle cx="300.19" cy="670.38" r="2.2"/><circle cx="305" cy="670.38" r="2.2"/><circle cx="309.81" cy="670.38" r="2.2"/><circle cx="314.62" cy="670.38" r="2.2"/><circle cx="319.42" cy="670.38" r="2.2"/><circle cx="323.27" cy="670.38" r="2.2"/><circle cx="293.46" cy="673.08" r="2.2"/><circle cx="298.27" cy="673.08" r="2.2"/><circle cx="303.08" cy="673.08" r="2.2"/><circle cx="307.88" cy="673.08" r="2.2"/><circle cx="312.69" cy="673.08" r="2.2"/><circle cx="318.46" cy="673.08" r="2.2"/><circle cx="295.38" cy="675.19" r="2.2"/><circle cx="310.77" cy="675.19" r="2.2"/></g>
<g fill="#2a84b6"><circle cx="254.42" cy="579.62" r="1.2"/><circle cx="254.42" cy="587.69" r="1.2"/><circle cx="254.42" cy="605.58" r="1.2"/><circle cx="252.12" cy="620.77" r="1.2"/><circle cx="256.54" cy="620.77" r="1.2"/><circle cx="254.42" cy="631.54" r="1.2"/><circle cx="250.19" cy="634.23" r="1.2"/><circle cx="258.85" cy="634.23" r="1.2"/><circle cx="242.5" cy="638.27" r="1.2"/><circle cx="246.35" cy="638.27" r="1.2"/><circle cx="250.19" cy="638.27" r="1.2"/><circle cx="258.85" cy="638.27" r="1.2"/><circle cx="262.69" cy="638.27" r="1.2"/><circle cx="266.54" cy="638.27" r="1.2"/><circle cx="238.65" cy="641.54" r="1.2"/><circle cx="242.5" cy="641.54" r="1.2"/><circle cx="246.35" cy="641.54" r="1.2"/><circle cx="250.19" cy="641.54" r="1.2"/><circle cx="258.85" cy="641.54" r="1.2"/><circle cx="262.69" cy="641.54" r="1.2"/><circle cx="266.54" cy="641.54" r="1.2"/><circle cx="238.65" cy="645" r="1.2"/><circle cx="242.5" cy="645" r="1.2"/><circle cx="246.35" cy="645" r="1.2"/><circle cx="250.19" cy="645" r="1.2"/><circle cx="258.85" cy="645" r="1.2"/><circle cx="262.69" cy="645" r="1.2"/><circle cx="266.54" cy="645" r="1.2"/><circle cx="270.38" cy="645" r="1.2"/><circle cx="242.5" cy="649.23" r="1.2"/><circle cx="246.35" cy="649.23" r="1.2"/><circle cx="250.19" cy="649.23" r="1.2"/><circle cx="258.85" cy="649.23" r="1.2"/><circle cx="262.69" cy="649.23" r="1.2"/><circle cx="266.54" cy="649.23" r="1.2"/><circle cx="242.5" cy="652.31" r="1.2"/><circle cx="246.35" cy="652.31" r="1.2"/><circle cx="250.19" cy="652.31" r="1.2"/><circle cx="258.85" cy="652.31" r="1.2"/><circle cx="262.69" cy="652.31" r="1.2"/><circle cx="266.54" cy="652.31" r="1.2"/><circle cx="242.5" cy="655.96" r="1.2"/><circle cx="246.35" cy="655.96" r="1.2"/><circle cx="250.19" cy="655.96" r="1.2"/><circle cx="258.85" cy="655.96" r="1.2"/><circle cx="262.69" cy="655.96" r="1.2"/><circle cx="266.54" cy="655.96" r="1.2"/><circle cx="246.35" cy="659.81" r="1.2"/><circle cx="250.19" cy="659.81" r="1.2"/><circle cx="254.42" cy="659.81" r="1.2"/><circle cx="258.85" cy="659.81" r="1.2"/><circle cx="262.69" cy="659.81" r="1.2"/><circle cx="246.35" cy="663.08" r="1.2"/><circle cx="250.19" cy="663.08" r="1.2"/><circle cx="258.85" cy="663.08" r="1.2"/><circle cx="262.69" cy="663.08" r="1.2"/><circle cx="254.42" cy="665" r="1.2"/><circle cx="254.42" cy="669.42" r="1.2"/></g>
<g fill="#8e1636"><circle cx="305" cy="649.23" r="1.2"/><circle cx="307.88" cy="650.77" r="1.2"/><circle cx="306.35" cy="658.46" r="1.2"/><circle cx="301.15" cy="661.35" r="1.2"/><circle cx="306.35" cy="661.35" r="1.2"/><circle cx="310.77" cy="661.35" r="1.2"/><circle cx="298.27" cy="665.77" r="1.2"/><circle cx="303.08" cy="665.77" r="1.2"/><circle cx="307.88" cy="665.77" r="1.2"/><circle cx="312.69" cy="665.77" r="1.2"/><circle cx="293.46" cy="668.27" r="1.2"/><circle cx="298.27" cy="668.27" r="1.2"/><circle cx="303.08" cy="668.27" r="1.2"/><circle cx="307.88" cy="668.27" r="1.2"/><circle cx="312.69" cy="668.27" r="1.2"/><circle cx="317.5" cy="668.27" r="1.2"/><circle cx="290.58" cy="670.38" r="1.2"/><circle cx="295.38" cy="670.38" r="1.2"/><circle cx="300.19" cy="670.38" r="1.2"/><circle cx="305" cy="670.38" r="1.2"/><circle cx="309.81" cy="670.38" r="1.2"/><circle cx="314.62" cy="670.38" r="1.2"/><circle cx="319.42" cy="670.38" r="1.2"/><circle cx="323.27" cy="670.38" r="1.2"/><circle cx="293.46" cy="673.08" r="1.2"/><circle cx="298.27" cy="673.08" r="1.2"/><circle cx="303.08" cy="673.08" r="1.2"/><circle cx="307.88" cy="673.08" r="1.2"/><circle cx="312.69" cy="673.08" r="1.2"/><circle cx="318.46" cy="673.08" r="1.2"/><circle cx="295.38" cy="675.19" r="1.2"/><circle cx="310.77" cy="675.19" r="1.2"/></g>
<line x1="237.7" y1="647.3" x2="270.9" y2="647.3" stroke="#1a1a1a" stroke-width="1.35"/>
<line x1="254.3" y1="641.5" x2="254.3" y2="654.6" stroke="#1a1a1a" stroke-width="1.1"/>
<line x1="245.7" y1="641.5" x2="262.9" y2="641.5" stroke="#1a1a1a" stroke-width="1.1"/>
<line x1="245.7" y1="654.6" x2="262.9" y2="654.6" stroke="#1a1a1a" stroke-width="1.1"/>
<line x1="289.5" y1="670.4" x2="322.7" y2="670.4" stroke="#1a1a1a" stroke-width="1.35"/>
<line x1="306.1" y1="665" x2="306.1" y2="672.7" stroke="#1a1a1a" stroke-width="1.1"/>
<line x1="297.5" y1="665" x2="314.7" y2="665" stroke="#1a1a1a" stroke-width="1.1"/>
<line x1="297.5" y1="672.7" x2="314.7" y2="672.7" stroke="#1a1a1a" stroke-width="1.1"/>
<text x="356.7" y="545" font-size="12.4" font-weight="bold" style="fill:#111;stroke:#111;stroke-width:0.25">L</text>
<text transform="translate(366.5,615) rotate(-90)" text-anchor="middle" font-size="9.6" style="stroke:#222;stroke-width:0.42" textLength="38" lengthAdjust="spacingAndGlyphs">TDC (min<tspan font-size="6.6" dy="-3">-1</tspan><tspan dy="3">)</tspan></text>
<line x1="392.2" y1="552.5" x2="392.2" y2="677.65" stroke="#474747" stroke-width="1.75"/>
<line x1="391.4" y1="676.85" x2="513.1" y2="676.85" stroke="#474747" stroke-width="1.75"/>
<line x1="388.7" y1="676.85" x2="392.2" y2="676.85" stroke="#474747" stroke-width="1"/>
<text x="385.4" y="679.75" font-size="8.6" text-anchor="end" style="stroke:#222;stroke-width:0.28">0.0</text>
<line x1="388.7" y1="652.58" x2="392.2" y2="652.58" stroke="#474747" stroke-width="1"/>
<text x="385.4" y="655.48" font-size="8.6" text-anchor="end" style="stroke:#222;stroke-width:0.28">0.2</text>
<line x1="388.7" y1="628.31" x2="392.2" y2="628.31" stroke="#474747" stroke-width="1"/>
<text x="385.4" y="631.21" font-size="8.6" text-anchor="end" style="stroke:#222;stroke-width:0.28">0.4</text>
<line x1="388.7" y1="604.04" x2="392.2" y2="604.04" stroke="#474747" stroke-width="1"/>
<text x="385.4" y="606.94" font-size="8.6" text-anchor="end" style="stroke:#222;stroke-width:0.28">0.6</text>
<line x1="388.7" y1="579.77" x2="392.2" y2="579.77" stroke="#474747" stroke-width="1"/>
<text x="385.4" y="582.67" font-size="8.6" text-anchor="end" style="stroke:#222;stroke-width:0.28">0.8</text>
<line x1="388.7" y1="555.5" x2="392.2" y2="555.5" stroke="#474747" stroke-width="1"/>
<text x="385.4" y="558.4" font-size="8.6" text-anchor="end" style="stroke:#222;stroke-width:0.28">1.0</text>
<line x1="426.5" y1="676.85" x2="426.5" y2="680.05" stroke="#474747" stroke-width="1"/>
<line x1="478.5" y1="676.85" x2="478.5" y2="680.05" stroke="#474747" stroke-width="1"/>
<text x="426.5" y="691.05" font-size="8.6" text-anchor="middle" style="stroke:#222;stroke-width:0.28" textLength="30.5" lengthAdjust="spacingAndGlyphs">Controls</text>
<text x="478.5" y="691.05" font-size="8.6" text-anchor="middle" style="stroke:#222;stroke-width:0.28" textLength="16.5" lengthAdjust="spacingAndGlyphs">APS</text>
<path d="M426.5,573.8V561.5H478.5V568.7" fill="none" stroke="#333" stroke-width="1"/>
<circle cx="447.62" cy="554.9" r="1.4" fill="#1a1a1a"/>
<circle cx="450.88" cy="554.9" r="1.4" fill="#1a1a1a"/>
<circle cx="454.12" cy="554.9" r="1.4" fill="#1a1a1a"/>
<circle cx="457.38" cy="554.9" r="1.4" fill="#1a1a1a"/>
<g fill="#c2ecfa"><circle cx="426.65" cy="581.15" r="2.2"/><circle cx="424.15" cy="589.81" r="2.2"/><circle cx="428.96" cy="589.81" r="2.2"/><circle cx="426.65" cy="591.73" r="2.2"/><circle cx="421.27" cy="593.65" r="2.2"/><circle cx="431.85" cy="593.65" r="2.2"/><circle cx="424.15" cy="595.58" r="2.2"/><circle cx="428.96" cy="595.58" r="2.2"/><circle cx="421.27" cy="597.5" r="2.2"/><circle cx="426.65" cy="597.5" r="2.2"/><circle cx="431.85" cy="597.5" r="2.2"/><circle cx="418.38" cy="600.38" r="2.2"/><circle cx="424.15" cy="600.38" r="2.2"/><circle cx="428.96" cy="600.38" r="2.2"/><circle cx="431.85" cy="600.38" r="2.2"/><circle cx="411.65" cy="603.27" r="2.2"/><circle cx="415.5" cy="603.27" r="2.2"/><circle cx="421.27" cy="603.27" r="2.2"/><circle cx="426.65" cy="603.27" r="2.2"/><circle cx="431.85" cy="603.27" r="2.2"/><circle cx="434.73" cy="603.27" r="2.2"/><circle cx="410.69" cy="605.77" r="2.2"/><circle cx="415.5" cy="605.77" r="2.2"/><circle cx="421.27" cy="605.77" r="2.2"/><circle cx="431.85" cy="605.77" r="2.2"/><circle cx="436.65" cy="605.77" r="2.2"/><circle cx="442.42" cy="605.77" r="2.2"/><circle cx="415.5" cy="609.04" r="2.2"/><circle cx="421.27" cy="609.04" r="2.2"/><circle cx="426.65" cy="609.04" r="2.2"/><circle cx="431.85" cy="609.04" r="2.2"/><circle cx="434.73" cy="609.04" r="2.2"/><circle cx="417.42" cy="611.92" r="2.2"/><circle cx="421.27" cy="611.92" r="2.2"/><circle cx="426.65" cy="611.92" r="2.2"/><circle cx="431.85" cy="611.92" r="2.2"/><circle cx="415.5" cy="615" r="2.2"/><circle cx="419.35" cy="615" r="2.2"/><circle cx="424.15" cy="615" r="2.2"/><circle cx="428.96" cy="615" r="2.2"/><circle cx="437.62" cy="616.15" r="2.2"/><circle cx="424.15" cy="617.69" r="2.2"/><circle cx="428.96" cy="617.69" r="2.2"/><circle cx="426.65" cy="621.54" r="2.2"/><circle cx="428.96" cy="620" r="2.2"/><circle cx="426.65" cy="630.77" r="2.2"/><circle cx="422.3" cy="602.7" r="2.2"/><circle cx="429.2" cy="602.7" r="2.2"/><circle cx="422.3" cy="607.9" r="2.2"/><circle cx="429.2" cy="607.9" r="2.2"/><circle cx="431" cy="609.6" r="2.2"/><circle cx="418.8" cy="610.5" r="2.2"/><circle cx="424" cy="609.6" r="2.2"/></g>
<g fill="#f6d0da"><circle cx="474.15" cy="576.92" r="2.2"/><circle cx="478.96" cy="576.92" r="2.2"/><circle cx="483.77" cy="576.92" r="2.2"/><circle cx="474.15" cy="581.15" r="2.2"/><circle cx="478.96" cy="581.15" r="2.2"/><circle cx="483.77" cy="581.15" r="2.2"/><circle cx="488.58" cy="581.15" r="2.2"/><circle cx="469.35" cy="584.04" r="2.2"/><circle cx="474.15" cy="584.04" r="2.2"/><circle cx="478.96" cy="584.04" r="2.2"/><circle cx="483.77" cy="584.04" r="2.2"/><circle cx="488.58" cy="584.04" r="2.2"/><circle cx="469.35" cy="586.92" r="2.2"/><circle cx="474.15" cy="586.92" r="2.2"/><circle cx="483.77" cy="586.92" r="2.2"/><circle cx="474.15" cy="589.81" r="2.2"/><circle cx="478.96" cy="589.81" r="2.2"/><circle cx="483.77" cy="589.81" r="2.2"/><circle cx="488.58" cy="589.81" r="2.2"/><circle cx="469.35" cy="593.08" r="2.2"/><circle cx="474.15" cy="593.08" r="2.2"/><circle cx="483.77" cy="593.08" r="2.2"/><circle cx="488.58" cy="593.08" r="2.2"/><circle cx="469.35" cy="596.54" r="2.2"/><circle cx="474.15" cy="596.54" r="2.2"/><circle cx="478.96" cy="596.54" r="2.2"/><circle cx="483.77" cy="596.54" r="2.2"/><circle cx="488.58" cy="596.54" r="2.2"/><circle cx="474.15" cy="598.46" r="2.2"/><circle cx="478.96" cy="598.46" r="2.2"/><circle cx="483.77" cy="598.46" r="2.2"/><circle cx="488.58" cy="598.46" r="2.2"/><circle cx="476.08" cy="602.69" r="2.2"/><circle cx="480.88" cy="602.69" r="2.2"/><circle cx="474.15" cy="606.35" r="2.2"/><circle cx="483.77" cy="606.35" r="2.2"/><circle cx="478.96" cy="609.04" r="2.2"/><circle cx="478.96" cy="620.58" r="2.2"/></g>
<g fill="#2a84b6"><circle cx="426.65" cy="581.15" r="1.2"/><circle cx="424.15" cy="589.81" r="1.2"/><circle cx="428.96" cy="589.81" r="1.2"/><circle cx="426.65" cy="591.73" r="1.2"/><circle cx="421.27" cy="593.65" r="1.2"/><circle cx="431.85" cy="593.65" r="1.2"/><circle cx="424.15" cy="595.58" r="1.2"/><circle cx="428.96" cy="595.58" r="1.2"/><circle cx="421.27" cy="597.5" r="1.2"/><circle cx="426.65" cy="597.5" r="1.2"/><circle cx="431.85" cy="597.5" r="1.2"/><circle cx="418.38" cy="600.38" r="1.2"/><circle cx="424.15" cy="600.38" r="1.2"/><circle cx="428.96" cy="600.38" r="1.2"/><circle cx="431.85" cy="600.38" r="1.2"/><circle cx="411.65" cy="603.27" r="1.2"/><circle cx="415.5" cy="603.27" r="1.2"/><circle cx="421.27" cy="603.27" r="1.2"/><circle cx="426.65" cy="603.27" r="1.2"/><circle cx="431.85" cy="603.27" r="1.2"/><circle cx="434.73" cy="603.27" r="1.2"/><circle cx="410.69" cy="605.77" r="1.2"/><circle cx="415.5" cy="605.77" r="1.2"/><circle cx="421.27" cy="605.77" r="1.2"/><circle cx="431.85" cy="605.77" r="1.2"/><circle cx="436.65" cy="605.77" r="1.2"/><circle cx="442.42" cy="605.77" r="1.2"/><circle cx="415.5" cy="609.04" r="1.2"/><circle cx="421.27" cy="609.04" r="1.2"/><circle cx="426.65" cy="609.04" r="1.2"/><circle cx="431.85" cy="609.04" r="1.2"/><circle cx="434.73" cy="609.04" r="1.2"/><circle cx="417.42" cy="611.92" r="1.2"/><circle cx="421.27" cy="611.92" r="1.2"/><circle cx="426.65" cy="611.92" r="1.2"/><circle cx="431.85" cy="611.92" r="1.2"/><circle cx="415.5" cy="615" r="1.2"/><circle cx="419.35" cy="615" r="1.2"/><circle cx="424.15" cy="615" r="1.2"/><circle cx="428.96" cy="615" r="1.2"/><circle cx="437.62" cy="616.15" r="1.2"/><circle cx="424.15" cy="617.69" r="1.2"/><circle cx="428.96" cy="617.69" r="1.2"/><circle cx="426.65" cy="621.54" r="1.2"/><circle cx="428.96" cy="620" r="1.2"/><circle cx="426.65" cy="630.77" r="1.2"/><circle cx="422.3" cy="602.7" r="1.2"/><circle cx="429.2" cy="602.7" r="1.2"/><circle cx="422.3" cy="607.9" r="1.2"/><circle cx="429.2" cy="607.9" r="1.2"/><circle cx="431" cy="609.6" r="1.2"/><circle cx="418.8" cy="610.5" r="1.2"/><circle cx="424" cy="609.6" r="1.2"/></g>
<g fill="#8e1636"><circle cx="474.15" cy="576.92" r="1.2"/><circle cx="478.96" cy="576.92" r="1.2"/><circle cx="483.77" cy="576.92" r="1.2"/><circle cx="474.15" cy="581.15" r="1.2"/><circle cx="478.96" cy="581.15" r="1.2"/><circle cx="483.77" cy="581.15" r="1.2"/><circle cx="488.58" cy="581.15" r="1.2"/><circle cx="469.35" cy="584.04" r="1.2"/><circle cx="474.15" cy="584.04" r="1.2"/><circle cx="478.96" cy="584.04" r="1.2"/><circle cx="483.77" cy="584.04" r="1.2"/><circle cx="488.58" cy="584.04" r="1.2"/><circle cx="469.35" cy="586.92" r="1.2"/><circle cx="474.15" cy="586.92" r="1.2"/><circle cx="483.77" cy="586.92" r="1.2"/><circle cx="474.15" cy="589.81" r="1.2"/><circle cx="478.96" cy="589.81" r="1.2"/><circle cx="483.77" cy="589.81" r="1.2"/><circle cx="488.58" cy="589.81" r="1.2"/><circle cx="469.35" cy="593.08" r="1.2"/><circle cx="474.15" cy="593.08" r="1.2"/><circle cx="483.77" cy="593.08" r="1.2"/><circle cx="488.58" cy="593.08" r="1.2"/><circle cx="469.35" cy="596.54" r="1.2"/><circle cx="474.15" cy="596.54" r="1.2"/><circle cx="478.96" cy="596.54" r="1.2"/><circle cx="483.77" cy="596.54" r="1.2"/><circle cx="488.58" cy="596.54" r="1.2"/><circle cx="474.15" cy="598.46" r="1.2"/><circle cx="478.96" cy="598.46" r="1.2"/><circle cx="483.77" cy="598.46" r="1.2"/><circle cx="488.58" cy="598.46" r="1.2"/><circle cx="476.08" cy="602.69" r="1.2"/><circle cx="480.88" cy="602.69" r="1.2"/><circle cx="474.15" cy="606.35" r="1.2"/><circle cx="483.77" cy="606.35" r="1.2"/><circle cx="478.96" cy="609.04" r="1.2"/><circle cx="478.96" cy="620.58" r="1.2"/></g>
<line x1="409.9" y1="605.8" x2="443.1" y2="605.8" stroke="#1a1a1a" stroke-width="1.35"/>
<line x1="426.5" y1="600.4" x2="426.5" y2="612.3" stroke="#1a1a1a" stroke-width="1.1"/>
<line x1="417.9" y1="600.4" x2="435.1" y2="600.4" stroke="#1a1a1a" stroke-width="1.1"/>
<line x1="417.9" y1="612.3" x2="435.1" y2="612.3" stroke="#1a1a1a" stroke-width="1.1"/>
<line x1="461.9" y1="590.8" x2="495.1" y2="590.8" stroke="#1a1a1a" stroke-width="1.35"/>
<line x1="478.5" y1="584" x2="478.5" y2="597.9" stroke="#1a1a1a" stroke-width="1.1"/>
<line x1="469.9" y1="584" x2="487.1" y2="584" stroke="#1a1a1a" stroke-width="1.1"/>
<line x1="469.9" y1="597.9" x2="487.1" y2="597.9" stroke="#1a1a1a" stroke-width="1.1"/>
</svg></body></html>
